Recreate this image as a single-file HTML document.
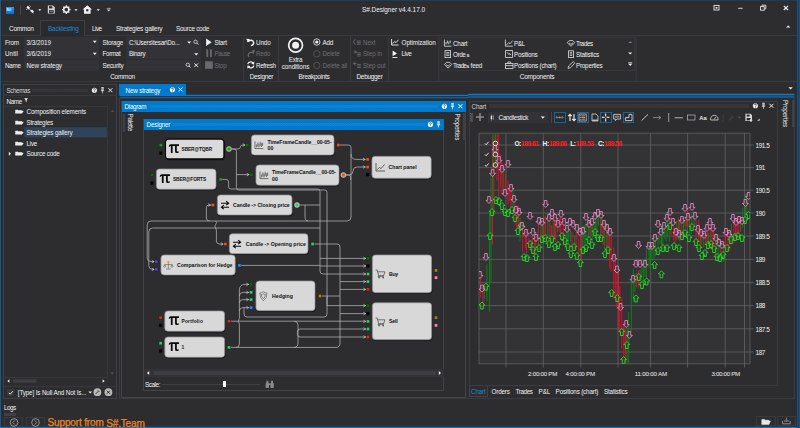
<!DOCTYPE html>
<html><head><meta charset="utf-8"><title>S#.Designer</title>
<style>
html,body{margin:0;padding:0;}
body{width:800px;height:428px;overflow:hidden;background:#2d2d30;position:relative;font-family:"Liberation Sans", sans-serif;}
#app{position:absolute;left:0;top:0;width:800px;height:428px;overflow:hidden;background:#2d2d30;}
#app div,#app span,#app svg{position:absolute;}
#app span{white-space:nowrap;line-height:1;}
#app svg{overflow:visible;}
</style></head><body><div id="app">
<div style="left:0.00px;top:0.00px;width:800.00px;height:428.00px;background:#2d2d30;"></div>
<svg style="left:0.00px;top:0.00px;" width="800" height="428" viewBox="0 0 800 428"><rect x="0" y="0" width="800" height="0.7" fill="#1b4466"/><rect x="0" y="0" width="0.95" height="428" fill="#1b5f96"/><rect x="0.95" y="1" width="0.45" height="426" fill="#282426"/><rect x="1" y="426.2" width="796" height="0.5" fill="#262224"/><rect x="0" y="426.7" width="800" height="1.3" fill="#1870b0"/><rect x="795.7" y="0.9" width="1.1" height="425.8" fill="#2a2526"/><rect x="796.8" y="0" width="3.2" height="428" fill="#1b5078"/><rect x="798.1" y="0" width="0.8" height="428" fill="#27394c"/></svg>
<div style="left:5.60px;top:6.80px;width:8.60px;height:7.00px;background:linear-gradient(#2b9cf2,#0a6cc6);"></div>
<span style="left:6px;top:8px;line-height:4px;font-size:3.6px;color:#fff;transform:translate(0.60px,0.48px) rotate(0.01deg);font-weight:bold;">S#</span>
<div style="left:20.30px;top:5.00px;width:0.60px;height:10.00px;background:#46464a;"></div>
<span style="left:362px;top:6px;line-height:7px;font-size:6.5px;color:#f1f1f1;transform:translate(0.00px,0.07px) rotate(0.01deg);letter-spacing:-0.063px;">S#.Designer v4.4.17.0</span>
<svg style="left:25.00px;top:4.40px;" width="90" height="12" viewBox="0 0 90 12">
<g fill="none" stroke="#f1f1f1" stroke-width="1">
<path d="M2.2 2.8 L8.6 9.2" stroke-width="0.8"/><path d="M1.4 3.4 L3 1.8 L5 3.8 L3.4 5.4z" fill="#f1f1f1" stroke="none"/><path d="M5.4 7 L7 5.4 L9 7.4 L7.4 9z" fill="#f1f1f1" stroke="none"/><path d="M4.6 1.6 L5.6 2.6 M1.2 5 L2.2 6" stroke-width="0.7"/>
</g>
<path d="M13.2 5.2 h3.2 l-1.6 1.8z" fill="#f1f1f1"/>
<path d="M22.8 1.6 h5.2 l1.8 1.6 v6.4 h-7z" fill="#d4d4d4"/><rect x="24" y="2.2" width="3.4" height="2.2" fill="#2d2d30"/><rect x="24" y="6" width="4.6" height="3" fill="#2d2d30"/><rect x="24.6" y="6.8" width="3.4" height="0.6" fill="#d4d4d4"/>
<g transform="translate(41.3,5.6)"><circle r="2.6" fill="none" stroke="#f1f1f1" stroke-width="1.5"/><g stroke="#f1f1f1" stroke-width="1.3"><path d="M0 -4.3V-2.8M0 4.3V2.8M-4.3 0H-2.8M4.3 0H2.8M-3 -3L-2 -2M3 3L2 2M-3 3L-2 2M3 -3L2 -2"/></g></g>
<path d="M49.4 5.2 h3.2 l-1.6 1.8z" fill="#f1f1f1"/>
<path d="M57.6 5.4 L62.3 1.2 L67 5.4 L65.6 5.4 L65.6 9.8 L59 9.8 L59 5.4z" fill="#f1f1f1"/><rect x="61.2" y="5.2" width="2.2" height="2.2" fill="#2d2d30"/>
<path d="M71.6 5.2 h3.2 l-1.6 1.8z" fill="#f1f1f1"/>
<path d="M81.8 5.4 h3.8 l-1.9 2.1z" fill="#d0d0d0"/><rect x="81.8" y="3.9" width="3.8" height="0.7" fill="#d0d0d0"/>
</svg>
<svg style="left:710.00px;top:2.00px;" width="90" height="14" viewBox="0 0 90 14">
<rect x="4" y="3.4" width="5" height="4.6" fill="none" stroke="#e6e6e6" stroke-width="0.9"/><rect x="5.6" y="5" width="1.8" height="1.6" fill="#e6e6e6"/>
<rect x="28.2" y="5.8" width="4.4" height="0.9" fill="#e6e6e6"/>
<rect x="50.6" y="4.6" width="3.6" height="3.6" fill="none" stroke="#e6e6e6" stroke-width="0.9"/><path d="M52 4.4 V3.2 H55.8 V6.8 H54.4" fill="none" stroke="#e6e6e6" stroke-width="0.9"/>
<path d="M73.8 3.8 L78 8 M78 3.8 L73.8 8" stroke="#f1f1f1" stroke-width="1.1"/>
<path d="M76 25.6 l2.2 -2.2 l2.2 2.2z" fill="#f1f1f1"/>
</svg>
<div style="left:40.00px;top:20.30px;width:44.60px;height:15.40px;background:#2a2a2d;border:0.6px solid #3f3f46;box-sizing:border-box;border-bottom:none;"></div>
<div style="left:441.30px;top:36.70px;width:193.40px;height:34.00px;background:#2e2e31;border:0.5px solid #37373b;box-sizing:border-box;"></div>
<div style="left:1.00px;top:34.90px;width:39.00px;height:0.60px;background:#3a3a3e;"></div>
<div style="left:84.60px;top:34.90px;width:712.00px;height:0.60px;background:#3a3a3e;"></div>
<span style="left:9px;top:24px;line-height:7px;font-size:6.5px;color:#f1f1f1;transform:translate(0.00px,0.66px) rotate(0.01deg);letter-spacing:-0.296px;">Common</span>
<span style="left:48px;top:24px;line-height:7px;font-size:6.5px;color:#1c86d6;transform:translate(0.00px,0.66px) rotate(0.01deg);letter-spacing:-0.274px;">Backtesting</span>
<span style="left:92px;top:24px;line-height:7px;font-size:6.5px;color:#f1f1f1;transform:translate(0.00px,0.66px) rotate(0.01deg);letter-spacing:-0.584px;">Live</span>
<span style="left:116px;top:24px;line-height:7px;font-size:6.5px;color:#f1f1f1;transform:translate(0.00px,0.66px) rotate(0.01deg);letter-spacing:-0.213px;">Strategies gallery</span>
<span style="left:176px;top:24px;line-height:7px;font-size:6.5px;color:#f1f1f1;transform:translate(0.00px,0.66px) rotate(0.01deg);letter-spacing:-0.318px;">Source code</span>
<div style="left:1.00px;top:81.40px;width:796.00px;height:0.60px;background:#3a3a3e;"></div>
<svg style="left:786.80px;top:86.00px;" width="8" height="5" viewBox="0 0 8 5"><path d="M1.4 1.2 h4.4 l-2.2 2.4z" fill="#f1f1f1"/></svg>
<span style="left:5px;top:38px;line-height:7px;font-size:6.3px;color:#f1f1f1;transform:translate(0.00px,0.88px) rotate(0.01deg);letter-spacing:-0.251px;">From</span>
<div style="left:24.30px;top:36.90px;width:74.50px;height:10.80px;background:#333337;"></div>
<span style="left:26px;top:38px;line-height:7px;font-size:6.3px;color:#f1f1f1;transform:translate(0.60px,0.88px) rotate(0.01deg);letter-spacing:-0.014px;">3/3/2019</span>
<svg style="left:92.00px;top:40.30px;" width="6" height="4" viewBox="0 0 6 4"><path d="M0.8 0.8 h4 l-2 2.2z" fill="#f1f1f1"/></svg>
<span style="left:5px;top:50px;line-height:7px;font-size:6.3px;color:#f1f1f1;transform:translate(0.00px,0.38px) rotate(0.01deg);letter-spacing:0.058px;">Until</span>
<div style="left:24.30px;top:48.40px;width:74.50px;height:10.80px;background:#333337;"></div>
<span style="left:26px;top:50px;line-height:7px;font-size:6.3px;color:#f1f1f1;transform:translate(0.60px,0.38px) rotate(0.01deg);letter-spacing:-0.014px;">3/6/2019</span>
<svg style="left:92.00px;top:51.80px;" width="6" height="4" viewBox="0 0 6 4"><path d="M0.8 0.8 h4 l-2 2.2z" fill="#f1f1f1"/></svg>
<span style="left:5px;top:61px;line-height:7px;font-size:6.3px;color:#f1f1f1;transform:translate(0.00px,0.88px) rotate(0.01deg);letter-spacing:-0.299px;">Name</span>
<div style="left:24.30px;top:59.90px;width:74.50px;height:10.80px;background:#333337;"></div>
<span style="left:26px;top:61px;line-height:7px;font-size:6.3px;color:#f1f1f1;transform:translate(0.60px,0.88px) rotate(0.01deg);letter-spacing:-0.129px;">New strategy</span>
<span style="left:102px;top:38px;line-height:7px;font-size:6.3px;color:#f1f1f1;transform:translate(0.40px,0.88px) rotate(0.01deg);letter-spacing:-0.209px;">Storage</span>
<div style="left:126.40px;top:36.90px;width:74.60px;height:10.80px;background:#333337;"></div>
<span style="left:129px;top:38px;line-height:7px;font-size:6.3px;color:#f1f1f1;transform:translate(0.00px,0.88px) rotate(0.01deg);letter-spacing:-0.245px;">C:\Users\tesar\Do...</span>
<span style="left:102px;top:50px;line-height:7px;font-size:6.3px;color:#f1f1f1;transform:translate(0.40px,0.38px) rotate(0.01deg);letter-spacing:-0.309px;">Format</span>
<div style="left:126.40px;top:48.40px;width:74.60px;height:10.80px;background:#333337;"></div>
<span style="left:129px;top:50px;line-height:7px;font-size:6.3px;color:#f1f1f1;transform:translate(0.00px,0.38px) rotate(0.01deg);letter-spacing:-0.243px;">Binary</span>
<span style="left:102px;top:61px;line-height:7px;font-size:6.3px;color:#f1f1f1;transform:translate(0.40px,0.88px) rotate(0.01deg);letter-spacing:-0.219px;">Security</span>
<div style="left:126.40px;top:59.90px;width:74.60px;height:10.80px;background:#333337;"></div>
<svg style="left:186.00px;top:38.00px;" width="16" height="34" viewBox="0 0 16 34">
<path d="M1.2 3.6 h4 l-2 2.2z" fill="#f1f1f1"/>
<circle cx="9.6" cy="3.8" r="1.7" fill="none" stroke="#e0e0e0" stroke-width="0.8"/><path d="M10.8 5 L12.4 6.6" stroke="#e0e0e0" stroke-width="0.9"/>
<path d="M8.2 15.2 h4 l-2 2.2z" fill="#f1f1f1"/>
<circle cx="1.8" cy="26.8" r="1.7" fill="none" stroke="#e0e0e0" stroke-width="0.8"/><path d="M3 28 L4.6 29.6" stroke="#e0e0e0" stroke-width="0.9"/>
<path d="M8.4 25.4 L12 29 M12 25.4 L8.4 29" stroke="#e6e6e6" stroke-width="1"/>
</svg>
<span style="left:110px;top:73px;line-height:7px;font-size:6.5px;color:#f1f1f1;transform:translate(0.20px,0.17px) rotate(0.01deg);letter-spacing:-0.296px;">Common</span>
<svg style="left:204.00px;top:37.00px;" width="10" height="34" viewBox="0 0 10 34">
<path d="M2.1 1.4 L7.7 5.25 L2.1 9.1z" fill="#f1f1f1"/>
<rect x="2.4" y="12.3" width="1.8" height="7.8" fill="#6a6a6c"/><rect x="6" y="12.3" width="1.8" height="7.8" fill="#6a6a6c"/>
<rect x="1.1" y="24.3" width="7.7" height="7.5" fill="#6a6a6c"/>
</svg>
<span style="left:214px;top:38px;line-height:7px;font-size:6.3px;color:#f1f1f1;transform:translate(0.40px,0.78px) rotate(0.01deg);letter-spacing:-0.182px;">Start</span>
<span style="left:214px;top:50px;line-height:7px;font-size:6.3px;color:#6e6e70;transform:translate(0.60px,0.48px) rotate(0.01deg);letter-spacing:-0.532px;">Pause</span>
<span style="left:214px;top:61px;line-height:7px;font-size:6.3px;color:#6e6e70;transform:translate(0.40px,0.98px) rotate(0.01deg);letter-spacing:-0.242px;">Stop</span>
<svg style="left:0.00px;top:0.00px;" width="800" height="428" viewBox="0 0 800 428"><rect x="243.3" y="36.4" width="0.8" height="44.4" fill="#3f3f46"/></svg>
<svg style="left:245.00px;top:37.00px;" width="12" height="34" viewBox="0 0 12 34">
<path d="M2.6 3.6 H5.6 A2.6 2.6 0 0 1 5.6 8.8 H4.6" fill="none" stroke="#f1f1f1" stroke-width="1.4" transform="rotate(-20 5 5)"/><path d="M1.2 1.8 L5 2 L3 5.2z" fill="#f1f1f1"/>
<path d="M8.6 15.4 H6 A2.5 2.5 0 0 0 5 20.2" fill="none" stroke="#6a6a6c" stroke-width="1.2" transform="rotate(15 6 17)"/><path d="M9.8 12.8 L6.6 13.8 L9 16.6z" fill="#6a6a6c"/>
<path d="M2.8 27.2 A2.9 2.9 0 0 1 8.2 26.4" fill="none" stroke="#f1f1f1" stroke-width="1.3"/><path d="M9.4 24.6 L9 27.8 L6.2 26.6z" fill="#f1f1f1"/>
<path d="M8.8 28.6 A2.9 2.9 0 0 1 3.4 29.4" fill="none" stroke="#f1f1f1" stroke-width="1.3"/><path d="M2.2 31.4 L2.6 28.2 L5.4 29.4z" fill="#f1f1f1"/>
</svg>
<span style="left:256px;top:38px;line-height:7px;font-size:6.3px;color:#f1f1f1;transform:translate(0.00px,0.78px) rotate(0.01deg);letter-spacing:-0.116px;">Undo</span>
<span style="left:256px;top:50px;line-height:7px;font-size:6.3px;color:#6e6e70;transform:translate(0.00px,0.48px) rotate(0.01deg);letter-spacing:-0.266px;">Redo</span>
<span style="left:256px;top:61px;line-height:7px;font-size:6.3px;color:#f1f1f1;transform:translate(0.00px,0.98px) rotate(0.01deg);letter-spacing:-0.352px;">Refresh</span>
<span style="left:249px;top:73px;line-height:7px;font-size:6.5px;color:#f1f1f1;transform:translate(0.70px,0.17px) rotate(0.01deg);letter-spacing:-0.327px;">Designer</span>
<svg style="left:0.00px;top:0.00px;" width="800" height="428" viewBox="0 0 800 428"><rect x="278.1" y="36.4" width="0.8" height="44.4" fill="#3f3f46"/></svg>
<svg style="left:286.00px;top:36.00px;" width="20" height="20" viewBox="0 0 20 20"><circle cx="9.6" cy="9.3" r="6.9" fill="none" stroke="#f1f1f1" stroke-width="1.7"/><circle cx="9.6" cy="9.3" r="3.5" fill="#f1f1f1"/></svg>
<span style="left:288px;top:55px;line-height:7px;font-size:6.3px;color:#f1f1f1;transform:translate(0.80px,0.98px) rotate(0.01deg);letter-spacing:-0.261px;">Extra</span>
<span style="left:281px;top:62px;line-height:7px;font-size:6.3px;color:#f1f1f1;transform:translate(0.80px,0.78px) rotate(0.01deg);letter-spacing:-0.096px;">conditions</span>
<svg style="left:312.00px;top:37.00px;" width="10" height="34" viewBox="0 0 10 34">
<circle cx="4.8" cy="5" r="3.2" fill="none" stroke="#f1f1f1" stroke-width="0.8"/><circle cx="4.8" cy="5" r="1.6" fill="#f1f1f1"/>
<circle cx="4.8" cy="16.8" r="3.2" fill="none" stroke="#5a5a5c" stroke-width="0.8"/>
<circle cx="4.8" cy="28.4" r="3.2" fill="none" stroke="#5a5a5c" stroke-width="0.8"/>
</svg>
<span style="left:322px;top:38px;line-height:7px;font-size:6.3px;color:#f1f1f1;transform:translate(0.50px,0.78px) rotate(0.01deg);letter-spacing:-0.273px;">Add</span>
<span style="left:322px;top:50px;line-height:7px;font-size:6.3px;color:#6e6e70;transform:translate(0.50px,0.48px) rotate(0.01deg);letter-spacing:-0.201px;">Delete</span>
<span style="left:322px;top:61px;line-height:7px;font-size:6.3px;color:#6e6e70;transform:translate(0.50px,0.98px) rotate(0.01deg);letter-spacing:-0.167px;">Delete all</span>
<span style="left:298px;top:73px;line-height:7px;font-size:6.5px;color:#f1f1f1;transform:translate(0.50px,0.17px) rotate(0.01deg);letter-spacing:-0.303px;">Breakpoints</span>
<svg style="left:0.00px;top:0.00px;" width="800" height="428" viewBox="0 0 800 428"><rect x="350.1" y="36.4" width="0.8" height="44.4" fill="#3f3f46"/></svg>
<svg style="left:352.00px;top:37.00px;" width="10" height="34" viewBox="0 0 10 34">
<g fill="none" stroke="#6a6a6c" stroke-width="0.9">
<path d="M3.6 2.4 A2.6 2.6 0 0 0 3.6 7.4"/><path d="M4.8 4 h4 M4.8 5.6 h4 M4.8 7.2 h4"/>
<path d="M1.6 15 h3 M2.6 13.6 L4.6 15 L2.6 16.4"/><path d="M5.2 15.8 h3.6 M5.2 17.4 h3.6 M5.2 19 h3.6"/>
<path d="M4.6 26.6 h-3 M3.4 25.2 L1.4 26.6 L3.4 28"/><path d="M5.2 27.4 h3.6 M5.2 29 h3.6 M5.2 30.6 h3.6"/>
</g></svg>
<span style="left:363px;top:38px;line-height:7px;font-size:6.3px;color:#6e6e70;transform:translate(0.00px,0.78px) rotate(0.01deg);letter-spacing:-0.138px;">Next</span>
<span style="left:363px;top:50px;line-height:7px;font-size:6.3px;color:#6e6e70;transform:translate(0.00px,0.48px) rotate(0.01deg);letter-spacing:-0.087px;">Step in</span>
<span style="left:363px;top:61px;line-height:7px;font-size:6.3px;color:#6e6e70;transform:translate(0.00px,0.98px) rotate(0.01deg);letter-spacing:-0.134px;">Step out</span>
<span style="left:356px;top:73px;line-height:7px;font-size:6.5px;color:#f1f1f1;transform:translate(0.50px,0.17px) rotate(0.01deg);letter-spacing:-0.320px;">Debugger</span>
<svg style="left:0.00px;top:0.00px;" width="800" height="428" viewBox="0 0 800 428"><rect x="388.3" y="36.4" width="0.8" height="44.4" fill="#3f3f46"/></svg>
<svg style="left:390.00px;top:37.00px;" width="10" height="22" viewBox="0 0 10 22">
<path d="M1.6 2 V8 H8.6" fill="none" stroke="#f1f1f1" stroke-width="0.9"/><path d="M2.6 6.6 L4.6 4.4 L6 5.6 L8.4 2.8" fill="none" stroke="#f1f1f1" stroke-width="0.9"/>
<path d="M2.6 13.6 L7 16.4 L2.6 19.2z" fill="#f1f1f1"/><rect x="2.4" y="20" width="5" height="0.9" fill="#f1f1f1"/>
</svg>
<span style="left:401px;top:38px;line-height:7px;font-size:6.3px;color:#f1f1f1;transform:translate(0.60px,0.78px) rotate(0.01deg);letter-spacing:-0.083px;">Optimization</span>
<span style="left:401px;top:50px;line-height:7px;font-size:6.3px;color:#f1f1f1;transform:translate(0.60px,0.48px) rotate(0.01deg);letter-spacing:-0.491px;">Live</span>
<svg style="left:0.00px;top:0.00px;" width="800" height="428" viewBox="0 0 800 428"><rect x="438.5" y="36.4" width="0.8" height="44.4" fill="#3f3f46"/></svg>
<span style="left:453px;top:39px;line-height:7px;font-size:6.3px;color:#f1f1f1;transform:translate(0.00px,0.58px) rotate(0.01deg);letter-spacing:-0.201px;">Chart</span>
<span style="left:453px;top:50px;line-height:7px;font-size:6.3px;color:#f1f1f1;transform:translate(0.00px,0.78px) rotate(0.01deg);letter-spacing:-0.400px;">Orde</span>
<span style="left:453px;top:62px;line-height:7px;font-size:6.3px;color:#f1f1f1;transform:translate(0.00px,0.18px) rotate(0.01deg);letter-spacing:-0.604px;">Trade</span>
<span style="left:514px;top:39px;line-height:7px;font-size:6.3px;color:#f1f1f1;transform:translate(0.00px,0.58px) rotate(0.01deg);letter-spacing:-0.502px;">P&amp;L</span>
<span style="left:514px;top:50px;line-height:7px;font-size:6.3px;color:#f1f1f1;transform:translate(0.00px,0.78px) rotate(0.01deg);letter-spacing:-0.240px;">Positions</span>
<span style="left:514px;top:62px;line-height:7px;font-size:6.3px;color:#f1f1f1;transform:translate(0.00px,0.18px) rotate(0.01deg);letter-spacing:-0.182px;">Positions (chart)</span>
<span style="left:576px;top:39px;line-height:7px;font-size:6.3px;color:#f1f1f1;transform:translate(0.00px,0.58px) rotate(0.01deg);letter-spacing:-0.429px;">Trades</span>
<span style="left:576px;top:50px;line-height:7px;font-size:6.3px;color:#f1f1f1;transform:translate(0.00px,0.78px) rotate(0.01deg);letter-spacing:-0.220px;">Statistics</span>
<span style="left:576px;top:62px;line-height:7px;font-size:6.3px;color:#f1f1f1;transform:translate(0.00px,0.18px) rotate(0.01deg);letter-spacing:-0.230px;">Properties</span>
<span style="left:466px;top:51px;line-height:6px;font-size:5.4px;color:#f1f1f1;transform:translate(0.60px,0.81px) rotate(0.01deg);font-weight:bold;">s</span>
<span style="left:466px;top:63px;line-height:6px;font-size:5.4px;color:#f1f1f1;transform:translate(0.20px,0.21px) rotate(0.01deg);font-weight:bold;">s</span>
<span style="left:470px;top:62px;line-height:7px;font-size:6.3px;color:#f1f1f1;transform:translate(0.60px,0.18px) rotate(0.01deg);letter-spacing:-0.216px;">feed</span>
<svg style="left:443.00px;top:38.00px;" width="10" height="34" viewBox="0 0 10 34">
<g fill="none" stroke="#e2e2e2" stroke-width="0.8">
<path d="M1.4 1.6 V8.2 H8.4"/><path d="M3 6.4 V4 M4.4 5.4 V2.6 M5.8 6.4 V3.6 M7.2 5 V2.4"/>
<rect x="2" y="12.6" width="5.6" height="7" /><path d="M3.2 14.6 h3.2 M3.2 16 h3.2 M3.2 17.4 h3.2"/>
<path d="M1.4 26.4 L3.4 24.4 L6.8 24.4 L8.8 26.4 L5.1 30.2z"/><path d="M3.2 26.6 L5.1 28.2 L7 26.6"/>
</g></svg>
<svg style="left:504.00px;top:38.00px;" width="10" height="34" viewBox="0 0 10 34">
<g fill="none" stroke="#e2e2e2" stroke-width="0.8">
<path d="M1.4 1.6 V8.2 H8.8"/><path d="M2.4 7 L4.6 4.6 L6 5.8 L8.6 2.6"/>
<rect x="1.6" y="12.6" width="6.8" height="6.8"/><path d="M3 14.2 L5 16.6 L5.6 15.4 L7 17.2" />
<rect x="1.4" y="25.4" width="7.6" height="5"/><path d="M3.8 25.4 V24 H6.6 V25.4 M1.4 27.6 H9"/>
</g></svg>
<svg style="left:566.00px;top:38.00px;" width="10" height="34" viewBox="0 0 10 34">
<g fill="none" stroke="#e2e2e2" stroke-width="0.8">
<path d="M1.2 4.6 L3.2 2.6 L6.8 2.6 L8.8 4.6 L5 8.2z"/><path d="M3 4.8 L5 6.4 L7 4.8"/>
<rect x="2.6" y="12.8" width="4.8" height="6.8"/><path d="M3.8 14.6 h2.4 M3.8 16 h2.4 M3.8 17.4 h2.4"/>
<path d="M2 30.4 L2.6 28 L7.2 23.6 L8.8 25.2 L4.4 29.8z"/>
</g></svg>
<svg style="left:626.00px;top:38.00px;" width="10" height="34" viewBox="0 0 10 34">
<path d="M2.4 5 l1.8 -1.8 l1.8 1.8z" fill="#8a8a8c"/>
<path d="M2.2 14.4 h4 l-2 2.2z" fill="#f1f1f1"/>
<rect x="2.2" y="24.4" width="4" height="0.8" fill="#f1f1f1"/><path d="M2.2 25.8 h4 l-2 2.2z" fill="#f1f1f1"/>
</svg>
<span style="left:519px;top:73px;line-height:7px;font-size:6.5px;color:#f1f1f1;transform:translate(0.80px,0.17px) rotate(0.01deg);letter-spacing:-0.246px;">Components</span>
<svg style="left:0.00px;top:0.00px;" width="800" height="428" viewBox="0 0 800 428"><rect x="635.7" y="36.4" width="0.8" height="44.4" fill="#3f3f46"/></svg>
<div style="left:3.00px;top:84.40px;width:113.60px;height:314.60px;background:#2d2d30;border:0.6px solid #3f3f46;box-sizing:border-box;"></div>
<span style="left:6px;top:87px;line-height:7px;font-size:6.3px;color:#d0d0d0;transform:translate(0.40px,0.18px) rotate(0.01deg);letter-spacing:-0.379px;">Schemas</span>
<div style="left:32px;top:88.6px;width:56px;height:3.6px;background-image:radial-gradient(circle at 0.4px 0.4px,#46464a 0.45px,transparent 0.55px),radial-gradient(circle at 1.2px 1.3px,#46464a 0.45px,transparent 0.55px);background-size:1.7px 1.8px;opacity:.75"></div>
<svg style="left:0.00px;top:0.00px;" width="800" height="428" viewBox="0 0 800 428"><circle cx="94.4" cy="90.2" r="2.55" fill="#f1f1f1"/><path d="M93.55000000000001 89.45 a0.85 0.85 0 1 1 1.2 0.75 l-0.2 0.5" fill="none" stroke="#1e1e20" stroke-width="0.75"/><rect x="94.10000000000001" y="91.25" width="0.7" height="0.7" fill="#1e1e20"/><path d="M101.30000000000001 87.5 h2.4 M101.75 87.5 v3.2 M103.15 87.5 v3.2 M100.80000000000001 90.7 h3.4 M102.5 90.7 v2.7" fill="none" stroke="#f1f1f1" stroke-width="0.65"/><rect x="102.60000000000001" y="87.5" width="0.6" height="3.2" fill="#f1f1f1"/><path d="M108.4 88.2 L112.4 92.2 M112.4 88.2 L108.4 92.2" stroke="#f1f1f1" stroke-width="1"/></svg>
<div style="left:3.00px;top:94.70px;width:113.60px;height:0.50px;background:#3a3a3e;"></div>
<span style="left:6px;top:97px;line-height:7px;font-size:6.3px;color:#f1f1f1;transform:translate(0.40px,0.98px) rotate(0.01deg);letter-spacing:-0.299px;">Name</span>
<svg style="left:23.80px;top:98.20px;" width="5" height="5" viewBox="0 0 5 5"><path d="M0.2 0.3 h3.8 l-1.4 1.6 v2.2 l-1 -0.6 v-1.6z" fill="#f4f4f4"/></svg>
<div style="left:3.00px;top:106.20px;width:105.00px;height:0.50px;background:#38383c;"></div>
<div style="left:107.10px;top:106.00px;width:0.50px;height:271.00px;background:#38383c;"></div>
<span style="left:26px;top:108px;line-height:7px;font-size:6.3px;color:#f1f1f1;transform:translate(0.50px,0.48px) rotate(0.01deg);letter-spacing:-0.136px;">Composition elements</span>
<svg style="left:14.80px;top:109.40px;" width="9" height="5" viewBox="0 0 9 5"><path d="M0.5 4.3 L1.7 2 H8.3 L7 4.3z M0.5 4.2 V0.9 H2.8 L3.4 1.5 H6.8 V2" fill="#ececec" stroke="#ececec" stroke-width="0.45" stroke-linejoin="round"/></svg>
<div style="left:3.60px;top:117.10px;width:104.00px;height:0.50px;background:#2e2e31;"></div>
<span style="left:26px;top:118px;line-height:7px;font-size:6.3px;color:#f1f1f1;transform:translate(0.50px,0.98px) rotate(0.01deg);letter-spacing:-0.196px;">Strategies</span>
<svg style="left:14.80px;top:119.90px;" width="9" height="5" viewBox="0 0 9 5"><path d="M0.5 4.3 L1.7 2 H8.3 L7 4.3z M0.5 4.2 V0.9 H2.8 L3.4 1.5 H6.8 V2" fill="#ececec" stroke="#ececec" stroke-width="0.45" stroke-linejoin="round"/></svg>
<div style="left:3.60px;top:127.60px;width:104.00px;height:0.50px;background:#2e2e31;"></div>
<svg style="left:0.00px;top:0.00px;" width="800" height="428" viewBox="0 0 800 428"><rect x="24.4" y="127.30" width="82.5" height="10.1" fill="#2f4359"/></svg>
<span style="left:26px;top:129px;line-height:7px;font-size:6.3px;color:#f1f1f1;transform:translate(0.50px,0.48px) rotate(0.01deg);letter-spacing:-0.148px;">Strategies gallery</span>
<svg style="left:14.80px;top:130.40px;" width="9" height="5" viewBox="0 0 9 5"><path d="M0.5 4.3 L1.7 2 H8.3 L7 4.3z M0.5 4.2 V0.9 H2.8 L3.4 1.5 H6.8 V2" fill="#ececec" stroke="#ececec" stroke-width="0.45" stroke-linejoin="round"/></svg>
<div style="left:3.60px;top:138.10px;width:104.00px;height:0.50px;background:#2e2e31;"></div>
<span style="left:26px;top:139px;line-height:7px;font-size:6.3px;color:#f1f1f1;transform:translate(0.50px,0.98px) rotate(0.01deg);letter-spacing:-0.241px;">Live</span>
<svg style="left:14.80px;top:140.90px;" width="9" height="5" viewBox="0 0 9 5"><path d="M0.5 4.3 L1.7 2 H8.3 L7 4.3z M0.5 4.2 V0.9 H2.8 L3.4 1.5 H6.8 V2" fill="#ececec" stroke="#ececec" stroke-width="0.45" stroke-linejoin="round"/></svg>
<div style="left:3.60px;top:148.60px;width:104.00px;height:0.50px;background:#2e2e31;"></div>
<span style="left:26px;top:150px;line-height:7px;font-size:6.3px;color:#f1f1f1;transform:translate(0.50px,0.48px) rotate(0.01deg);letter-spacing:-0.214px;">Source code</span>
<svg style="left:14.80px;top:151.40px;" width="9" height="5" viewBox="0 0 9 5"><path d="M0.5 4.3 L1.7 2 H8.3 L7 4.3z M0.5 4.2 V0.9 H2.8 L3.4 1.5 H6.8 V2" fill="#ececec" stroke="#ececec" stroke-width="0.45" stroke-linejoin="round"/></svg>
<svg style="left:8.00px;top:151.00px;" width="4" height="6" viewBox="0 0 4 6"><path d="M0.8 0.8 L3 2.8 L0.8 4.8z" fill="#e6e6e6"/></svg>
<svg style="left:108.60px;top:108.00px;" width="7" height="6" viewBox="0 0 7 6"><path d="M1.6 3.8 l1.8 -1.8 l1.8 1.8z" fill="#5a5a5e"/></svg>
<svg style="left:108.60px;top:370.60px;" width="7" height="6" viewBox="0 0 7 6"><path d="M1.4 1.6 h3.6 l-1.8 1.8z" fill="#5a5a5e"/></svg>
<div style="left:3.60px;top:377.40px;width:104.00px;height:0.50px;background:#38383c;"></div>
<svg style="left:5.00px;top:378.00px;" width="105" height="7" viewBox="0 0 105 7"><path d="M4.4 1.2 L2.4 3 L4.4 4.8z" fill="#f1f1f1"/><path d="M97.6 1.2 L99.6 3 L97.6 4.8z" fill="#f1f1f1"/><rect x="8" y="1.2" width="23.4" height="3.6" fill="#3e3e42"/></svg>
<div style="left:3.60px;top:385.60px;width:112.60px;height:0.50px;background:#38383c;"></div>
<div style="left:7.40px;top:389.00px;width:7.00px;height:6.80px;background:#38383c;"></div>
<svg style="left:7.00px;top:388.80px;" width="8" height="8" viewBox="0 0 8 8"><path d="M1.8 3.8 L3.2 5.2 L5.8 2.2" fill="none" stroke="#f1f1f1" stroke-width="0.9"/></svg>
<span style="left:17px;top:389px;line-height:7px;font-size:6.3px;color:#f1f1f1;transform:translate(0.80px,0.08px) rotate(0.01deg);letter-spacing:-0.145px;">[Type] Is Null And Not Is...</span>
<svg style="left:87.60px;top:390.60px;" width="5" height="4" viewBox="0 0 5 4"><path d="M0.4 0.4 h3.6 l-1.8 2z" fill="#f1f1f1"/></svg>
<svg style="left:93.00px;top:388.00px;" width="20" height="9" viewBox="0 0 20 9"><circle cx="4.4" cy="4.2" r="3.9" fill="#b8b8b8"/><path d="M2.8 5.8 L5.4 3.2 M5 2.4 l1.1 1.1" stroke="#2d2d30" stroke-width="1"/><circle cx="15.4" cy="4.2" r="3.9" fill="#b8b8b8"/><path d="M13.9 2.7 L16.9 5.7 M16.9 2.7 L13.9 5.7" stroke="#2d2d30" stroke-width="1"/></svg>
<span style="left:4px;top:403px;line-height:7px;font-size:6.3px;color:#f1f1f1;transform:translate(0.00px,0.98px) rotate(0.01deg);letter-spacing:-0.514px;">Logs</span>
<div style="left:4.00px;top:413.20px;width:12.00px;height:2.40px;background:#3f3f46;"></div>
<div style="left:4.00px;top:417.00px;width:19.40px;height:10.00px;background:#2d2d30;border:0.6px solid #3a3a3e;box-sizing:border-box;"></div>
<div style="left:26.00px;top:417.00px;width:19.40px;height:10.00px;background:#2d2d30;border:0.6px solid #3a3a3e;box-sizing:border-box;"></div>
<svg style="left:9.00px;top:418.00px;" width="32" height="9" viewBox="0 0 32 9"><g fill="none" stroke="#b4b4b6" stroke-width="0.75"><circle cx="5" cy="4.5" r="3.8"/><path d="M5.8 2.5 L3.8 4.5 L5.8 6.5"/><circle cx="26.5" cy="4.5" r="3.8"/><path d="M25.7 2.5 L27.7 4.5 L25.7 6.5"/></g></svg>
<span style="left:47px;top:417px;line-height:11px;font-size:10px;color:#f0861c;transform:translate(0.60px,0.50px) rotate(0.01deg);letter-spacing:-0.152px;-webkit-text-stroke:0.25px #f0861c;">Support from S#.Team</span>
<div style="left:756.00px;top:416.00px;width:20.00px;height:10.00px;background:#2d2d30;border:0.6px solid #3a3a3e;box-sizing:border-box;"></div>
<div style="left:777.00px;top:416.00px;width:19.00px;height:10.00px;background:#2d2d30;border:0.6px solid #3a3a3e;box-sizing:border-box;"></div>
<svg style="left:761.00px;top:417.60px;" width="12" height="8" viewBox="0 0 12 8"><path d="M0.8 6.4 L2 3 H9.4 L8 6.4z M0.8 6.2 V1.4 H3.6 L4.2 2.2 H7.8 V3" fill="#e8e8e8" stroke="#e8e8e8" stroke-width="0.5" stroke-linejoin="round"/></svg>
<svg style="left:781.00px;top:417.40px;" width="12" height="8" viewBox="0 0 12 8"><path d="M1.6 4 V6.8 H9.2 V4 M3 4 h1 M7.8 4 h-1" fill="none" stroke="#9a9a9c" stroke-width="0.9"/><path d="M5.4 0.6 V4.6 M4 3.4 L5.4 4.8 L6.8 3.4" fill="none" stroke="#9a9a9c" stroke-width="0.8"/></svg>
<div style="left:119.40px;top:83.60px;width:67.00px;height:11.60px;background:#007acc;"></div>
<span style="left:125px;top:86px;line-height:7px;font-size:6.3px;color:#fff;transform:translate(0.60px,0.58px) rotate(0.01deg);letter-spacing:-0.179px;">New strategy</span>
<svg style="left:0.00px;top:0.00px;" width="800" height="428" viewBox="0 0 800 428"><circle cx="172.4" cy="89.8" r="2.55" fill="#fff"/><path d="M171.55 89.05 a0.85 0.85 0 1 1 1.2 0.75 l-0.2 0.5" fill="none" stroke="#1e1e20" stroke-width="0.75"/><rect x="172.1" y="90.85" width="0.7" height="0.7" fill="#1e1e20"/></svg>
<svg style="left:0.00px;top:0.00px;" width="800" height="428" viewBox="0 0 800 428"><path d="M178.6 87.6 L182.4 91.4 M182.4 87.6 L178.6 91.4" stroke="#fff" stroke-width="1"/></svg>
<div style="left:119.40px;top:96.50px;width:675.60px;height:302.00px;background:#2d2d30;border:0.7px solid #3c3c40;box-sizing:border-box;border-top:none;"></div>
<svg style="left:0.00px;top:0.00px;" width="800" height="428" viewBox="0 0 800 428"><rect x="119.4" y="94.8" width="348.6" height="1.25" fill="#0c79cc"/><rect x="120" y="96.9" width="348" height="1.4" fill="#1a5c92"/><rect x="468" y="93.8" width="326.4" height="1.2" fill="#0c79cc"/><rect x="468" y="95.3" width="326.4" height="2.6" fill="#1f5687"/></svg>
<div style="left:121.40px;top:100.60px;width:345.00px;height:297.00px;background:#2d2d30;border:0.6px solid #434346;box-sizing:border-box;"></div>
<div style="left:122.00px;top:101.00px;width:343.80px;height:11.00px;background:#007acc;"></div>
<div style="left:150px;top:104.6px;width:288px;height:3.6px;background-image:radial-gradient(circle at 0.4px 0.4px,#2a8ed8 0.45px,transparent 0.55px),radial-gradient(circle at 1.2px 1.3px,#2a8ed8 0.45px,transparent 0.55px);background-size:1.7px 1.8px;opacity:.75"></div>
<span style="left:124px;top:103px;line-height:7px;font-size:6.3px;color:#fff;transform:translate(0.60px,0.48px) rotate(0.01deg);letter-spacing:-0.314px;">Diagram</span>
<svg style="left:0.00px;top:0.00px;" width="800" height="428" viewBox="0 0 800 428"><circle cx="444.4" cy="106.2" r="2.55" fill="#fff"/><path d="M443.54999999999995 105.45 a0.85 0.85 0 1 1 1.2 0.75 l-0.2 0.5" fill="none" stroke="#1e1e20" stroke-width="0.75"/><rect x="444.09999999999997" y="107.25" width="0.7" height="0.7" fill="#1e1e20"/><path d="M451.29999999999995 103.5 h2.4 M451.75 103.5 v3.2 M453.15 103.5 v3.2 M450.79999999999995 106.7 h3.4 M452.5 106.7 v2.7" fill="none" stroke="#fff" stroke-width="0.65"/><rect x="452.59999999999997" y="103.5" width="0.6" height="3.2" fill="#fff"/><path d="M458.4 104.2 L462.4 108.2 M462.4 104.2 L458.4 108.2" stroke="#fff" stroke-width="1"/></svg>
<div style="left:123.00px;top:113.60px;width:2.20px;height:18.00px;background:#3f3f46;"></div>
<span style="left:0;top:0;line-height:7px;font-size:6.3px;color:#f1f1f1;letter-spacing:-0.316px;transform-origin:0 0;transform:translate(134px,113.6px) rotate(90deg);">Palette</span>
<span style="left:0;top:0;line-height:7px;font-size:6.3px;color:#f1f1f1;letter-spacing:-0.200px;transform-origin:0 0;transform:translate(460.9px,113.4px) rotate(90deg);">Properties</span>
<div style="left:463.40px;top:113.40px;width:2.40px;height:26.60px;background:#3f3f46;"></div>
<div style="left:143.40px;top:119.00px;width:301.00px;height:272.00px;background:#2d2d30;border:0.6px solid #434346;box-sizing:border-box;"></div>
<div style="left:143.80px;top:119.00px;width:300.00px;height:10.80px;background:#007acc;"></div>
<div style="left:173px;top:122.6px;width:252px;height:3.6px;background-image:radial-gradient(circle at 0.4px 0.4px,#2a8ed8 0.45px,transparent 0.55px),radial-gradient(circle at 1.2px 1.3px,#2a8ed8 0.45px,transparent 0.55px);background-size:1.7px 1.8px;opacity:.75"></div>
<span style="left:146px;top:121px;line-height:7px;font-size:6.3px;color:#fff;transform:translate(0.60px,0.18px) rotate(0.01deg);letter-spacing:-0.200px;">Designer</span>
<svg style="left:0.00px;top:0.00px;" width="800" height="428" viewBox="0 0 800 428"><circle cx="430.4" cy="124.4" r="2.55" fill="#fff"/><path d="M429.54999999999995 123.65 a0.85 0.85 0 1 1 1.2 0.75 l-0.2 0.5" fill="none" stroke="#1e1e20" stroke-width="0.75"/><rect x="430.09999999999997" y="125.45" width="0.7" height="0.7" fill="#1e1e20"/><path d="M437.29999999999995 121.7 h2.4 M437.75 121.7 v3.2 M439.15 121.7 v3.2 M436.79999999999995 124.9 h3.4 M438.5 124.9 v2.7" fill="none" stroke="#fff" stroke-width="0.65"/><rect x="438.59999999999997" y="121.7" width="0.6" height="3.2" fill="#fff"/></svg>
<div style="left:144.00px;top:369.40px;width:300.00px;height:7.20px;background:#333337;"></div>
<div style="left:153.60px;top:370.60px;width:282.00px;height:4.80px;background:#3e3e42;"></div>
<svg style="left:144.00px;top:369.40px;" width="300" height="8" viewBox="0 0 300 8"><path d="M5.2 2 L3 4 L5.2 6z" fill="#f1f1f1"/><path d="M294.8 2 L297 4 L294.8 6z" fill="#f1f1f1"/></svg>
<span style="left:145px;top:380px;line-height:7px;font-size:6.3px;color:#f1f1f1;transform:translate(0.00px,0.98px) rotate(0.01deg);letter-spacing:-0.419px;">Scale:</span>
<div style="left:162.00px;top:383.80px;width:98.00px;height:0.80px;background:#3f3f46;"></div>
<div style="left:223.00px;top:380.60px;width:2.60px;height:6.40px;background:#ffffff;"></div>
<svg style="left:265.00px;top:380.00px;" width="10" height="9" viewBox="0 0 10 9"><g fill="#8a8a8c"><rect x="0.6" y="3" width="3.4" height="5" rx="0.8"/><rect x="5.4" y="3" width="3.4" height="5" rx="0.8"/><rect x="1.4" y="0.8" width="2" height="3"/><rect x="6" y="0.8" width="2" height="3"/><rect x="3.6" y="3.4" width="2.2" height="1.6"/></g></svg>
<div style="left:468.60px;top:100.60px;width:309.00px;height:285.00px;background:#2d2d30;border:0.6px solid #3c3c40;box-sizing:border-box;"></div>
<span style="left:471px;top:102px;line-height:7px;font-size:6.3px;color:#d0d0d0;transform:translate(0.60px,0.78px) rotate(0.01deg);letter-spacing:-0.201px;">Chart</span>
<div style="left:489px;top:104.4px;width:260px;height:3.6px;background-image:radial-gradient(circle at 0.4px 0.4px,#46464a 0.45px,transparent 0.55px),radial-gradient(circle at 1.2px 1.3px,#46464a 0.45px,transparent 0.55px);background-size:1.7px 1.8px;opacity:.75"></div>
<svg style="left:0.00px;top:0.00px;" width="800" height="428" viewBox="0 0 800 428"><circle cx="755.4" cy="105.8" r="2.55" fill="#f1f1f1"/><path d="M754.55 105.05 a0.85 0.85 0 1 1 1.2 0.75 l-0.2 0.5" fill="none" stroke="#1e1e20" stroke-width="0.75"/><rect x="755.1" y="106.85" width="0.7" height="0.7" fill="#1e1e20"/><path d="M762.3 103.1 h2.4 M762.75 103.1 v3.2 M764.15 103.1 v3.2 M761.8 106.3 h3.4 M763.5 106.3 v2.7" fill="none" stroke="#f1f1f1" stroke-width="0.65"/><rect x="763.6" y="103.1" width="0.6" height="3.2" fill="#f1f1f1"/><path d="M769.4 103.8 L773.4 107.8 M773.4 103.8 L769.4 107.8" stroke="#f1f1f1" stroke-width="1"/></svg>
<span style="left:0;top:0;line-height:7px;font-size:6.3px;color:#f1f1f1;letter-spacing:-0.170px;transform-origin:0 0;transform:translate(788.9px,100px) rotate(90deg);">Properties</span>
<div style="left:792.40px;top:99.60px;width:2.20px;height:27.00px;background:#3f3f46;"></div>
<div style="left:469.00px;top:385.60px;width:19.40px;height:11.60px;background:#2d2d30;border:0.6px solid #434346;box-sizing:border-box;border-top:none;"></div>
<span style="left:471px;top:388px;line-height:7px;font-size:6.3px;color:#1c86d6;transform:translate(0.00px,0.28px) rotate(0.01deg);letter-spacing:-0.161px;">Chart</span>
<span style="left:491px;top:388px;line-height:7px;font-size:6.3px;color:#f1f1f1;transform:translate(0.60px,0.28px) rotate(0.01deg);letter-spacing:-0.208px;">Orders</span>
<span style="left:515px;top:388px;line-height:7px;font-size:6.3px;color:#f1f1f1;transform:translate(0.60px,0.28px) rotate(0.01deg);letter-spacing:-0.396px;">Trades</span>
<span style="left:538px;top:388px;line-height:7px;font-size:6.3px;color:#f1f1f1;transform:translate(0.60px,0.28px) rotate(0.01deg);letter-spacing:-0.169px;">P&amp;L</span>
<span style="left:555px;top:388px;line-height:7px;font-size:6.3px;color:#f1f1f1;transform:translate(0.60px,0.28px) rotate(0.01deg);letter-spacing:-0.171px;">Positions (chart)</span>
<span style="left:604px;top:388px;line-height:7px;font-size:6.3px;color:#f1f1f1;transform:translate(0.00px,0.28px) rotate(0.01deg);letter-spacing:-0.180px;">Statistics</span>
<svg style="left:0.00px;top:0.00px;" width="800" height="428" viewBox="0 0 800 428"><path d="
M231.6 149 H234 Q236.4 149 236.4 151.4 V187.6 Q236.4 190 238.8 190 H324.6 Q327 190 327 192.4 V314
M232 149 H238 Q240.4 149 240.4 146.8 Q240.4 145 243 145 H245.4
M222 179.4 H226 Q228.6 179.4 228.6 182 V187 Q228.6 189 231 189 H317.6 Q320 189 320 191.4 V271 Q320 274 323 274 H366
M236.4 174.6 H249.6
M340 145 H348.6 Q351 145 351 147.4 V217 Q351 221 347 221 H151 Q147.2 221 147.2 225 V258 Q147.2 261.6 151 261.6 H154.6
M351 154 Q351 159.4 356 159.4 H365.6
M346 175 H349 Q353 175 353 171 Q353 167 357 167 H365.6
M346 175 H348.4 Q350.6 175 350.6 177 V180
M214.4 205 H209 Q206.4 205 206.4 207.6 V218 Q206.4 221 209.4 221
M215.6 221 Q217.6 222.6 215.6 224.6 Q214.2 226 215.6 228 Q216.4 229 216.4 231 V241 Q216.4 244 219.4 244 H223.4
M320 228 H152.6 Q148.8 228 148.8 232 V265.6 Q148.8 269.4 152.6 269.4 H154.6
M299.6 205 H320
M305 205 Q305 208 305 216 Q305 221 308 221
M314.4 244 H327
M327 244 H337 Q340 244 340 247 V343 Q340 347.4 336 347.4 H231
M241 265.4 H320
M320 258.4 H366
M320 266 H366
M340 281.6 H366
M340 289.4 H366
M322 296 H327 M327 296 H340
M327 296 V305.6 H366
M340 313.6 H366
M231 321.2 H366
M300 329 H366 M300 337 H366
M300 329 Q297.4 329 297.4 332 V334 Q297.4 337 300 337
M294 321.2 Q298 321.2 298 325 V343 Q298 347.4 294 347.4
M236 347.4 Q239.4 347.4 239.4 344 V324 Q237 321.2 239.4 318.6 V290 Q239.4 284.4 245 284.4 H249
M239.4 296 Q239.4 292.4 243 292.4 H249 M239.4 303 Q239.4 299.6 243 299.6 H249 M239.4 311 Q239.4 307.6 243 307.6 H249
M244 307.6 V314 Q244 317 247 317 H324 Q327 317 327 314
" fill="none" stroke="#b4b4b4" stroke-width="0.75"/></svg>
<svg style="left:0.00px;top:0.00px;" width="800" height="428" viewBox="0 0 800 428"><path d="M363.4 257.1 L365.6 258.4 L363.4 259.7 M363.4 264.7 L365.6 266.0 L363.4 267.3 M363.4 272.7 L365.6 274.0 L363.4 275.3 M363.4 280.3 L365.6 281.6 L363.4 282.9 M363.4 288.1 L365.6 289.4 L363.4 290.7 M363.4 304.3 L365.6 305.6 L363.4 306.9 M363.4 312.3 L365.6 313.6 L363.4 314.9 M363.4 320.1 L365.6 321.4 L363.4 322.7 M363.4 327.7 L365.6 329.0 L363.4 330.3 M363.4 335.7 L365.6 337.0 L363.4 338.3 M363.0 158.1 L365.2 159.4 L363.0 160.7 M363.0 165.7 L365.2 167.0 L363.0 168.3 M242.8 143.7 L245.0 145.0 L242.8 146.3 M246.8 173.3 L249.0 174.6 L246.8 175.9 M208.2 203.7 L210.4 205.0 L208.2 206.3 M220.8 242.7 L223.0 244.0 L220.8 245.3 M151.8 260.3 L154.0 261.6 L151.8 262.9 M151.8 268.1 L154.0 269.4 L151.8 270.7 M246.4 283.1 L248.6 284.4 L246.4 285.7 M246.4 291.1 L248.6 292.4 L246.4 293.7 M246.4 298.3 L248.6 299.6 L246.4 300.9 M246.4 306.3 L248.6 307.6 L246.4 308.9 " fill="none" stroke="#c8c8c8" stroke-width="0.7"/></svg>
<svg style="left:0.00px;top:0.00px;" width="800" height="428" viewBox="0 0 800 428"><rect x="165.50" y="139.50" width="59.40" height="20.80" rx="3.4" fill="rgba(0,0,0,.45)"/><rect x="165.50" y="139.10" width="58.40" height="19.80" rx="3.2" fill="#dadada" stroke="#050505" stroke-width="1.1"/></svg>
<svg style="left:0.00px;top:0.00px;" width="800" height="428" viewBox="0 0 800 428"><rect x="156.50" y="169.50" width="60.40" height="21.00" rx="3.4" fill="rgba(0,0,0,.45)"/><rect x="156.35" y="168.95" width="59.70" height="20.30" rx="3.2" fill="#d8d8d8" stroke="#8c8c8c" stroke-width="0.7"/></svg>
<svg style="left:0.00px;top:0.00px;" width="800" height="428" viewBox="0 0 800 428"><rect x="251.50" y="135.50" width="83.40" height="20.80" rx="3.4" fill="rgba(0,0,0,.45)"/><rect x="251.35" y="134.95" width="82.70" height="20.10" rx="3.2" fill="#d8d8d8" stroke="#8c8c8c" stroke-width="0.7"/></svg>
<svg style="left:0.00px;top:0.00px;" width="800" height="428" viewBox="0 0 800 428"><rect x="256.10" y="165.50" width="83.80" height="21.00" rx="3.4" fill="rgba(0,0,0,.45)"/><rect x="255.95" y="164.95" width="83.10" height="20.30" rx="3.2" fill="#d8d8d8" stroke="#8c8c8c" stroke-width="0.7"/></svg>
<svg style="left:0.00px;top:0.00px;" width="800" height="428" viewBox="0 0 800 428"><rect x="372.10" y="156.90" width="60.00" height="22.60" rx="3.4" fill="rgba(0,0,0,.45)"/><rect x="371.95" y="156.35" width="59.30" height="21.90" rx="3.2" fill="#d8d8d8" stroke="#8c8c8c" stroke-width="0.7"/></svg>
<svg style="left:0.00px;top:0.00px;" width="800" height="428" viewBox="0 0 800 428"><rect x="217.50" y="195.50" width="75.40" height="20.80" rx="3.4" fill="rgba(0,0,0,.45)"/><rect x="217.35" y="194.95" width="74.70" height="20.10" rx="3.2" fill="#d8d8d8" stroke="#8c8c8c" stroke-width="0.7"/></svg>
<svg style="left:0.00px;top:0.00px;" width="800" height="428" viewBox="0 0 800 428"><rect x="229.50" y="234.30" width="79.40" height="20.60" rx="3.4" fill="rgba(0,0,0,.45)"/><rect x="229.35" y="233.75" width="78.70" height="19.90" rx="3.2" fill="#d8d8d8" stroke="#8c8c8c" stroke-width="0.7"/></svg>
<svg style="left:0.00px;top:0.00px;" width="800" height="428" viewBox="0 0 800 428"><rect x="161.10" y="255.50" width="75.00" height="20.80" rx="3.4" fill="rgba(0,0,0,.45)"/><rect x="160.95" y="254.95" width="74.30" height="20.10" rx="3.2" fill="#d8d8d8" stroke="#8c8c8c" stroke-width="0.7"/></svg>
<svg style="left:0.00px;top:0.00px;" width="800" height="428" viewBox="0 0 800 428"><rect x="256.10" y="281.50" width="59.80" height="30.40" rx="3.4" fill="rgba(0,0,0,.45)"/><rect x="255.95" y="280.95" width="59.10" height="29.70" rx="3.2" fill="#d8d8d8" stroke="#8c8c8c" stroke-width="0.7"/></svg>
<svg style="left:0.00px;top:0.00px;" width="800" height="428" viewBox="0 0 800 428"><rect x="164.90" y="311.50" width="60.60" height="21.00" rx="3.4" fill="rgba(0,0,0,.45)"/><rect x="164.75" y="310.95" width="59.90" height="20.30" rx="3.2" fill="#d8d8d8" stroke="#8c8c8c" stroke-width="0.7"/></svg>
<svg style="left:0.00px;top:0.00px;" width="800" height="428" viewBox="0 0 800 428"><rect x="164.90" y="337.50" width="60.60" height="21.00" rx="3.4" fill="rgba(0,0,0,.45)"/><rect x="164.75" y="336.95" width="59.90" height="20.30" rx="3.2" fill="#d8d8d8" stroke="#8c8c8c" stroke-width="0.7"/></svg>
<svg style="left:0.00px;top:0.00px;" width="800" height="428" viewBox="0 0 800 428"><rect x="372.50" y="255.50" width="60.00" height="38.40" rx="3.4" fill="rgba(0,0,0,.45)"/><rect x="372.35" y="254.95" width="59.30" height="37.70" rx="3.2" fill="#d8d8d8" stroke="#8c8c8c" stroke-width="0.7"/></svg>
<svg style="left:0.00px;top:0.00px;" width="800" height="428" viewBox="0 0 800 428"><rect x="372.50" y="303.30" width="60.00" height="37.60" rx="3.4" fill="rgba(0,0,0,.45)"/><rect x="372.35" y="302.75" width="59.30" height="36.90" rx="3.2" fill="#d8d8d8" stroke="#8c8c8c" stroke-width="0.7"/></svg>
<svg style="left:167.60px;top:143.40px;" width="12.1" height="11" viewBox="0 0 11 10"><path d="M0.6 3 Q1 1.2 2.6 1.2 H10 V2.7 H8 V7 Q8 7.8 8.8 7.8 Q9.4 7.8 9.8 7.4 V8.6 Q9 9.2 8 9.2 Q6.4 9.2 6.4 7.4 V2.7 H4.2 V9 H2.6 V2.7 Q1.6 2.7 1.2 3.6z" fill="#0a0a0a"/></svg>
<svg style="left:158.80px;top:173.40px;" width="12.1" height="11" viewBox="0 0 11 10"><path d="M0.6 3 Q1 1.2 2.6 1.2 H10 V2.7 H8 V7 Q8 7.8 8.8 7.8 Q9.4 7.8 9.8 7.4 V8.6 Q9 9.2 8 9.2 Q6.4 9.2 6.4 7.4 V2.7 H4.2 V9 H2.6 V2.7 Q1.6 2.7 1.2 3.6z" fill="#0a0a0a"/></svg>
<svg style="left:167.60px;top:315.40px;" width="12.1" height="11" viewBox="0 0 11 10"><path d="M0.6 3 Q1 1.2 2.6 1.2 H10 V2.7 H8 V7 Q8 7.8 8.8 7.8 Q9.4 7.8 9.8 7.4 V8.6 Q9 9.2 8 9.2 Q6.4 9.2 6.4 7.4 V2.7 H4.2 V9 H2.6 V2.7 Q1.6 2.7 1.2 3.6z" fill="#0a0a0a"/></svg>
<svg style="left:167.60px;top:341.40px;" width="12.1" height="11" viewBox="0 0 11 10"><path d="M0.6 3 Q1 1.2 2.6 1.2 H10 V2.7 H8 V7 Q8 7.8 8.8 7.8 Q9.4 7.8 9.8 7.4 V8.6 Q9 9.2 8 9.2 Q6.4 9.2 6.4 7.4 V2.7 H4.2 V9 H2.6 V2.7 Q1.6 2.7 1.2 3.6z" fill="#0a0a0a"/></svg>
<span style="left:181px;top:146px;line-height:5px;font-size:4.8px;color:#101010;transform:translate(0.60px,0.77px) rotate(0.01deg);letter-spacing:-0.134px;font-weight:bold;">SBER@TQBR</span>
<span style="left:173px;top:176px;line-height:5px;font-size:4.8px;color:#101010;transform:translate(0.00px,0.77px) rotate(0.01deg);letter-spacing:-0.127px;font-weight:bold;">SBER@FORTS</span>
<span style="left:267px;top:138px;line-height:6px;font-size:5.2px;color:#101010;transform:translate(0.60px,0.53px) rotate(0.01deg);letter-spacing:-0.072px;font-weight:bold;">TimeFrameCandle__00-05-</span>
<span style="left:267px;top:145px;line-height:6px;font-size:5.2px;color:#101010;transform:translate(0.60px,0.13px) rotate(0.01deg);letter-spacing:0.109px;font-weight:bold;">00</span>
<span style="left:272px;top:168px;line-height:6px;font-size:5.2px;color:#101010;transform:translate(0.00px,0.93px) rotate(0.01deg);letter-spacing:-0.072px;font-weight:bold;">TimeFrameCandle__00-05-</span>
<span style="left:272px;top:175px;line-height:6px;font-size:5.2px;color:#101010;transform:translate(0.00px,0.53px) rotate(0.01deg);letter-spacing:0.109px;font-weight:bold;">00</span>
<span style="left:388px;top:163px;line-height:6px;font-size:5.2px;color:#101010;transform:translate(0.60px,0.93px) rotate(0.01deg);letter-spacing:-0.050px;font-weight:bold;">Chart panel</span>
<span style="left:233px;top:201px;line-height:6px;font-size:5.2px;color:#101010;transform:translate(0.00px,0.93px) rotate(0.01deg);letter-spacing:-0.052px;font-weight:bold;">Candle -&gt; Closing price</span>
<span style="left:245px;top:240px;line-height:6px;font-size:5.2px;color:#101010;transform:translate(0.80px,0.53px) rotate(0.01deg);letter-spacing:0.008px;font-weight:bold;">Candle -&gt; Opening price</span>
<span style="left:177px;top:262px;line-height:6px;font-size:5.2px;color:#101010;transform:translate(0.00px,0.13px) rotate(0.01deg);letter-spacing:-0.026px;font-weight:bold;">Comparison for Hedge</span>
<span style="left:272px;top:292px;line-height:6px;font-size:5.2px;color:#101010;transform:translate(0.00px,0.93px) rotate(0.01deg);letter-spacing:0.036px;font-weight:bold;">Hedging</span>
<span style="left:181px;top:318px;line-height:5px;font-size:4.8px;color:#101010;transform:translate(0.60px,0.97px) rotate(0.01deg);letter-spacing:0.187px;font-weight:bold;">Portfolio</span>
<span style="left:181px;top:344px;line-height:5px;font-size:4.8px;color:#101010;transform:translate(0.60px,0.97px) rotate(0.01deg);font-weight:bold;">1</span>
<span style="left:389px;top:270px;line-height:6px;font-size:5.2px;color:#101010;transform:translate(0.00px,0.93px) rotate(0.01deg);letter-spacing:-0.271px;font-weight:bold;">Buy</span>
<span style="left:389px;top:318px;line-height:6px;font-size:5.2px;color:#101010;transform:translate(0.00px,0.13px) rotate(0.01deg);letter-spacing:-0.159px;font-weight:bold;">Sell</span>
<svg style="left:254.00px;top:140.00px;" width="10" height="10" viewBox="0 0 10 10"><g fill="none" stroke="#2a2a2a" stroke-width="0.6"><path d="M1 1.4 V8.6 H9.4"/><path d="M2.6 7.4 V4.4 M3.8 6.6 V2.4 M5 7.4 V3.6 M6.2 6 V1.8 M7.4 7 V3.2 M8.6 6 V2.6"/></g></svg>
<svg style="left:258.60px;top:170.00px;" width="10" height="10" viewBox="0 0 10 10"><g fill="none" stroke="#2a2a2a" stroke-width="0.6"><path d="M1 1.4 V8.6 H9.4"/><path d="M2.6 7.4 V4.4 M3.8 6.6 V2.4 M5 7.4 V3.6 M6.2 6 V1.8 M7.4 7 V3.2 M8.6 6 V2.6"/></g></svg>
<svg style="left:375.00px;top:162.00px;" width="11" height="10" viewBox="0 0 11 10"><g fill="none" stroke="#2a2a2a" stroke-width="0.7"><path d="M1 1 V9 H10"/><path d="M2.4 7.6 L4.4 5.4 L6 6.6 L9.6 2.4"/></g></svg>
<svg style="left:220.00px;top:200.00px;" width="10" height="10" viewBox="0 0 10 10"><g fill="none" stroke="#0a0a0a" stroke-width="1.1"><path d="M1 3.2 H8.4 M6.2 1.2 L8.6 3.2 L6.2 5.2"/><path d="M9 7.2 H1.6 M3.8 5.2 L1.4 7.2 L3.8 9.2"/></g></svg>
<svg style="left:232.40px;top:238.80px;" width="10" height="10" viewBox="0 0 10 10"><g fill="none" stroke="#0a0a0a" stroke-width="1.1"><path d="M1 3.2 H8.4 M6.2 1.2 L8.6 3.2 L6.2 5.2"/><path d="M9 7.2 H1.6 M3.8 5.2 L1.4 7.2 L3.8 9.2"/></g></svg>
<svg style="left:163.00px;top:259.60px;" width="11" height="11" viewBox="0 0 11 11"><g fill="none" stroke="#555" stroke-width="0.6"><path d="M5.4 3.2 V8.6 M3 9 H7.8 M1.6 4.6 H9.2"/><path d="M0.6 6.6 Q1.6 8 2.8 6.6 L1.7 4.6z M8 6.6 Q9 8 10.2 6.6 L9.1 4.6z"/></g><rect x="4.4" y="1" width="2" height="2.4" fill="#f0a020"/></svg>
<svg style="left:259.00px;top:291.00px;" width="9" height="11" viewBox="0 0 9 11"><g fill="none" stroke="#555" stroke-width="0.6"><path d="M4.4 0.8 Q6 2 8 2 Q8 7.6 4.4 9.8 Q0.8 7.6 0.8 2 Q2.8 2 4.4 0.8z"/><path d="M4.4 2.8 Q5.4 3.4 6.4 3.4 Q6.4 6.4 4.4 7.8 Q2.4 6.4 2.4 3.4 Q3.4 3.4 4.4 2.8z"/></g></svg>
<svg style="left:375.00px;top:269.40px;" width="11" height="10" viewBox="0 0 11 10"><g fill="none" stroke="#444" stroke-width="0.7"><path d="M0.6 1 H2.2 L3.6 6.4 H8.8 L9.8 2.8 H2.8"/><path d="M3.6 6.4 L3 7.6 H9"/></g><circle cx="4" cy="8.8" r="0.8" fill="#444"/><circle cx="8.2" cy="8.8" r="0.8" fill="#444"/></svg>
<svg style="left:375.00px;top:316.60px;" width="11" height="10" viewBox="0 0 11 10"><g fill="none" stroke="#444" stroke-width="0.7"><path d="M0.6 1 H2.2 L3.6 6.4 H8.8 L9.8 2.8 H2.8"/><path d="M3.6 6.4 L3 7.6 H9"/></g><circle cx="4" cy="8.8" r="0.8" fill="#444"/><circle cx="8.2" cy="8.8" r="0.8" fill="#444"/></svg>
<svg style="left:0.00px;top:0.00px;" width="800" height="428" viewBox="0 0 800 428"><rect x="159.30" y="143.50" width="3" height="3" fill="#1f9a1f" stroke="rgba(10,10,10,.5)" stroke-width="0.4"/></svg>
<svg style="left:0.00px;top:0.00px;" width="800" height="428" viewBox="0 0 800 428"><rect x="159.30" y="151.70" width="3" height="3" fill="#050505" stroke="rgba(10,10,10,.5)" stroke-width="0.4"/></svg>
<svg style="left:0.00px;top:0.00px;" width="800" height="428" viewBox="0 0 800 428"><rect x="150.50" y="173.50" width="3" height="3" fill="#0e6a12" stroke="rgba(10,10,10,.5)" stroke-width="0.4"/></svg>
<svg style="left:0.00px;top:0.00px;" width="800" height="428" viewBox="0 0 800 428"><rect x="150.50" y="181.70" width="3" height="3" fill="#050505" stroke="rgba(10,10,10,.5)" stroke-width="0.4"/></svg>
<svg style="left:0.00px;top:0.00px;" width="800" height="428" viewBox="0 0 800 428"><circle cx="229" cy="149" r="2.7" fill="#c0c0c0"/><rect x="227.50" y="147.50" width="3" height="3" fill="#1f9a1f"/></svg>
<svg style="left:0.00px;top:0.00px;" width="800" height="428" viewBox="0 0 800 428"><rect x="219.10" y="177.90" width="3" height="3" fill="#1f9a1f" stroke="rgba(10,10,10,.5)" stroke-width="0.4"/></svg>
<svg style="left:0.00px;top:0.00px;" width="800" height="428" viewBox="0 0 800 428"><rect x="245.90" y="143.50" width="3" height="3" fill="#0e6a12" stroke="rgba(10,10,10,.5)" stroke-width="0.4"/></svg>
<svg style="left:0.00px;top:0.00px;" width="800" height="428" viewBox="0 0 800 428"><rect x="336.90" y="143.50" width="3" height="3" fill="#f0501a" stroke="rgba(10,10,10,.5)" stroke-width="0.4"/></svg>
<svg style="left:0.00px;top:0.00px;" width="800" height="428" viewBox="0 0 800 428"><rect x="249.90" y="173.10" width="3" height="3" fill="#0e6a12" stroke="rgba(10,10,10,.5)" stroke-width="0.4"/></svg>
<svg style="left:0.00px;top:0.00px;" width="800" height="428" viewBox="0 0 800 428"><circle cx="343.4" cy="175" r="2.7" fill="#c0c0c0"/><rect x="341.90" y="173.50" width="3" height="3" fill="#f0501a"/></svg>
<svg style="left:0.00px;top:0.00px;" width="800" height="428" viewBox="0 0 800 428"><rect x="366.10" y="157.90" width="3" height="3" fill="#f0501a" stroke="rgba(10,10,10,.5)" stroke-width="0.4"/></svg>
<svg style="left:0.00px;top:0.00px;" width="800" height="428" viewBox="0 0 800 428"><rect x="366.10" y="165.50" width="3" height="3" fill="#f0501a" stroke="rgba(10,10,10,.5)" stroke-width="0.4"/></svg>
<svg style="left:0.00px;top:0.00px;" width="800" height="428" viewBox="0 0 800 428"><rect x="366.10" y="173.10" width="3" height="3" fill="#050505" stroke="rgba(10,10,10,.5)" stroke-width="0.4"/></svg>
<svg style="left:0.00px;top:0.00px;" width="800" height="428" viewBox="0 0 800 428"><rect x="211.30" y="203.50" width="3" height="3" fill="#f0501a" stroke="rgba(10,10,10,.5)" stroke-width="0.4"/></svg>
<svg style="left:0.00px;top:0.00px;" width="800" height="428" viewBox="0 0 800 428"><circle cx="297" cy="205" r="2.7" fill="#c0c0c0"/><rect x="295.50" y="203.50" width="3" height="3" fill="#2ecf6a"/></svg>
<svg style="left:0.00px;top:0.00px;" width="800" height="428" viewBox="0 0 800 428"><rect x="223.90" y="242.50" width="3" height="3" fill="#f0501a" stroke="rgba(10,10,10,.5)" stroke-width="0.4"/></svg>
<svg style="left:0.00px;top:0.00px;" width="800" height="428" viewBox="0 0 800 428"><rect x="311.10" y="242.50" width="3" height="3" fill="#2ecf6a" stroke="rgba(10,10,10,.5)" stroke-width="0.4"/></svg>
<svg style="left:0.00px;top:0.00px;" width="800" height="428" viewBox="0 0 800 428"><rect x="154.90" y="260.10" width="3" height="3" fill="#5a40d8" stroke="rgba(10,10,10,.5)" stroke-width="0.4"/></svg>
<svg style="left:0.00px;top:0.00px;" width="800" height="428" viewBox="0 0 800 428"><rect x="154.90" y="267.90" width="3" height="3" fill="#5a40d8" stroke="rgba(10,10,10,.5)" stroke-width="0.4"/></svg>
<svg style="left:0.00px;top:0.00px;" width="800" height="428" viewBox="0 0 800 428"><rect x="237.90" y="263.90" width="3" height="3" fill="#1e90ff" stroke="rgba(10,10,10,.5)" stroke-width="0.4"/></svg>
<svg style="left:0.00px;top:0.00px;" width="800" height="428" viewBox="0 0 800 428"><rect x="249.50" y="282.90" width="3" height="3" fill="#0e6a12" stroke="rgba(10,10,10,.5)" stroke-width="0.4"/></svg>
<svg style="left:0.00px;top:0.00px;" width="800" height="428" viewBox="0 0 800 428"><rect x="249.50" y="290.90" width="3" height="3" fill="#2ecf6a" stroke="rgba(10,10,10,.5)" stroke-width="0.4"/></svg>
<svg style="left:0.00px;top:0.00px;" width="800" height="428" viewBox="0 0 800 428"><rect x="249.50" y="298.10" width="3" height="3" fill="#2ecf6a" stroke="rgba(10,10,10,.5)" stroke-width="0.4"/></svg>
<svg style="left:0.00px;top:0.00px;" width="800" height="428" viewBox="0 0 800 428"><rect x="249.50" y="306.10" width="3" height="3" fill="#1e90ff" stroke="rgba(10,10,10,.5)" stroke-width="0.4"/></svg>
<svg style="left:0.00px;top:0.00px;" width="800" height="428" viewBox="0 0 800 428"><rect x="318.50" y="294.50" width="3" height="3" fill="#9a8a10" stroke="rgba(10,10,10,.5)" stroke-width="0.4"/></svg>
<svg style="left:0.00px;top:0.00px;" width="800" height="428" viewBox="0 0 800 428"><rect x="159.10" y="316.10" width="3" height="3" fill="#d82a2a" stroke="rgba(10,10,10,.5)" stroke-width="0.4"/></svg>
<svg style="left:0.00px;top:0.00px;" width="800" height="428" viewBox="0 0 800 428"><rect x="159.10" y="323.90" width="3" height="3" fill="#050505" stroke="rgba(10,10,10,.5)" stroke-width="0.4"/></svg>
<svg style="left:0.00px;top:0.00px;" width="800" height="428" viewBox="0 0 800 428"><rect x="227.50" y="319.70" width="3" height="3" fill="#d82a2a" stroke="rgba(10,10,10,.5)" stroke-width="0.4"/></svg>
<svg style="left:0.00px;top:0.00px;" width="800" height="428" viewBox="0 0 800 428"><rect x="159.10" y="341.70" width="3" height="3" fill="#2ecf6a" stroke="rgba(10,10,10,.5)" stroke-width="0.4"/></svg>
<svg style="left:0.00px;top:0.00px;" width="800" height="428" viewBox="0 0 800 428"><rect x="159.10" y="349.50" width="3" height="3" fill="#050505" stroke="rgba(10,10,10,.5)" stroke-width="0.4"/></svg>
<svg style="left:0.00px;top:0.00px;" width="800" height="428" viewBox="0 0 800 428"><rect x="227.50" y="345.90" width="3" height="3" fill="#2ecf6a" stroke="rgba(10,10,10,.5)" stroke-width="0.4"/></svg>
<svg style="left:0.00px;top:0.00px;" width="800" height="428" viewBox="0 0 800 428"><rect x="366.50" y="256.90" width="3" height="3" fill="#0e6a12" stroke="rgba(10,10,10,.5)" stroke-width="0.4"/></svg>
<svg style="left:0.00px;top:0.00px;" width="800" height="428" viewBox="0 0 800 428"><rect x="366.50" y="264.50" width="3" height="3" fill="#050505" stroke="rgba(10,10,10,.5)" stroke-width="0.4"/></svg>
<svg style="left:0.00px;top:0.00px;" width="800" height="428" viewBox="0 0 800 428"><rect x="366.50" y="272.50" width="3" height="3" fill="#2ecf6a" stroke="rgba(10,10,10,.5)" stroke-width="0.4"/></svg>
<svg style="left:0.00px;top:0.00px;" width="800" height="428" viewBox="0 0 800 428"><rect x="366.50" y="280.10" width="3" height="3" fill="#2ecf6a" stroke="rgba(10,10,10,.5)" stroke-width="0.4"/></svg>
<svg style="left:0.00px;top:0.00px;" width="800" height="428" viewBox="0 0 800 428"><rect x="366.50" y="287.90" width="3" height="3" fill="#d82a2a" stroke="rgba(10,10,10,.5)" stroke-width="0.4"/></svg>
<svg style="left:0.00px;top:0.00px;" width="800" height="428" viewBox="0 0 800 428"><rect x="366.50" y="304.10" width="3" height="3" fill="#0e6a12" stroke="rgba(10,10,10,.5)" stroke-width="0.4"/></svg>
<svg style="left:0.00px;top:0.00px;" width="800" height="428" viewBox="0 0 800 428"><rect x="366.50" y="312.10" width="3" height="3" fill="#050505" stroke="rgba(10,10,10,.5)" stroke-width="0.4"/></svg>
<svg style="left:0.00px;top:0.00px;" width="800" height="428" viewBox="0 0 800 428"><rect x="366.50" y="319.90" width="3" height="3" fill="#2ecf6a" stroke="rgba(10,10,10,.5)" stroke-width="0.4"/></svg>
<svg style="left:0.00px;top:0.00px;" width="800" height="428" viewBox="0 0 800 428"><rect x="366.50" y="327.50" width="3" height="3" fill="#2ecf6a" stroke="rgba(10,10,10,.5)" stroke-width="0.4"/></svg>
<svg style="left:0.00px;top:0.00px;" width="800" height="428" viewBox="0 0 800 428"><rect x="366.50" y="335.50" width="3" height="3" fill="#d82a2a" stroke="rgba(10,10,10,.5)" stroke-width="0.4"/></svg>
<svg style="left:0.00px;top:0.00px;" width="800" height="428" viewBox="0 0 800 428"><rect x="434.50" y="268.90" width="3" height="3" fill="#9a8a10" stroke="rgba(10,10,10,.5)" stroke-width="0.4"/></svg>
<svg style="left:0.00px;top:0.00px;" width="800" height="428" viewBox="0 0 800 428"><rect x="434.50" y="276.10" width="3" height="3" fill="#ff86ac" stroke="rgba(10,10,10,.5)" stroke-width="0.4"/></svg>
<svg style="left:0.00px;top:0.00px;" width="800" height="428" viewBox="0 0 800 428"><rect x="434.50" y="316.10" width="3" height="3" fill="#9a8a10" stroke="rgba(10,10,10,.5)" stroke-width="0.4"/></svg>
<svg style="left:0.00px;top:0.00px;" width="800" height="428" viewBox="0 0 800 428"><rect x="434.50" y="323.90" width="3" height="3" fill="#ff86ac" stroke="rgba(10,10,10,.5)" stroke-width="0.4"/></svg>
<div style="left:470px;top:113px;width:3.4px;height:9px;background-image:radial-gradient(circle at 0.4px 0.4px,#8a8a8e 0.45px,transparent 0.55px),radial-gradient(circle at 1.2px 1.3px,#8a8a8e 0.45px,transparent 0.55px);background-size:1.7px 1.8px;opacity:.75"></div>
<svg style="left:475.00px;top:112.40px;" width="10" height="10" viewBox="0 0 10 10"><path d="M5 1 V9 M1 5 H9" stroke="#8c8c8e" stroke-width="1.5"/></svg>
<div style="left:487.60px;top:112.20px;width:60.00px;height:10.40px;background:#333337;"></div>
<svg style="left:490.00px;top:114.00px;" width="5" height="7" viewBox="0 0 5 7"><path d="M1.4 0.6 V6.4 M3.2 1.4 V5.6" stroke="#e6e6e6" stroke-width="0.6"/><rect x="0.8" y="2" width="1.2" height="3" fill="#e6e6e6"/></svg>
<span style="left:498px;top:114px;line-height:7px;font-size:6.3px;color:#f1f1f1;transform:translate(0.60px,0.08px) rotate(0.01deg);letter-spacing:-0.269px;">Candlestick</span>
<svg style="left:540.00px;top:115.60px;" width="6" height="4" viewBox="0 0 6 4"><path d="M0.8 0.6 h4 l-2 2.2z" fill="#f1f1f1"/></svg>
<div style="left:551.00px;top:112.00px;width:0.60px;height:11.00px;background:#46464a;"></div>
<div style="left:554.40px;top:111.80px;width:11.20px;height:10.80px;background:#2b2c30;border:0.8px solid #1a649c;box-sizing:border-box;"></div>
<div style="left:577.40px;top:111.80px;width:11.20px;height:10.80px;background:#2b2c30;border:0.8px solid #1a649c;box-sizing:border-box;"></div>
<div style="left:600.40px;top:111.80px;width:11.20px;height:10.80px;background:#2b2c30;border:0.8px solid #1a649c;box-sizing:border-box;"></div>
<div style="left:623.20px;top:111.80px;width:11.20px;height:10.80px;background:#2b2c30;border:0.8px solid #1a649c;box-sizing:border-box;"></div>
<svg style="left:554.40px;top:111.80px;" width="12" height="11" viewBox="0 0 12 11"><g stroke="#9a9a9c" stroke-width="0.7" fill="none"><path d="M2 5.4 H9.2 M3.4 4 L2 5.4 L3.4 6.8 M7.8 4 L9.2 5.4 L7.8 6.8"/></g><circle cx="5.6" cy="5.4" r="0.9" fill="#9a9a9c"/></svg>
<svg style="left:566.60px;top:111.80px;" width="10" height="11" viewBox="0 0 10 11"><g stroke="#f1f1f1" stroke-width="1.1" fill="none"><path d="M3 9 V2.4 M1.2 4.2 L3 2.2 L4.8 4.2"/><path d="M7 2 V8.6 M5.2 6.8 L7 8.8 L8.8 6.8"/></g></svg>
<svg style="left:577.40px;top:111.80px;" width="12" height="11" viewBox="0 0 12 11"><g stroke="#d8d8d8" stroke-width="0.7" fill="none"><rect x="2" y="2" width="7.2" height="7"/><path d="M4.4 3.8 H8 M4.4 5.5 H8 M4.4 7.2 H8"/></g><g fill="#d8d8d8"><rect x="2.8" y="3.4" width="0.9" height="0.9"/><rect x="2.8" y="5.1" width="0.9" height="0.9"/><rect x="2.8" y="6.8" width="0.9" height="0.9"/></g></svg>
<svg style="left:589.60px;top:111.80px;" width="10" height="11" viewBox="0 0 10 11"><path d="M2 2 H6 L8 4 V9 H2z" stroke="#d8d8d8" stroke-width="0.8" fill="none"/><rect x="2.4" y="7.6" width="5.2" height="1.2" fill="#d8d8d8"/></svg>
<svg style="left:600.40px;top:111.80px;" width="12" height="11" viewBox="0 0 12 11"><path d="M5.6 1.6 V9.4 M1.8 5.4 H9.4" stroke="#d8d8d8" stroke-width="1.2"/><rect x="4.6" y="4.4" width="2" height="2" fill="#2a2d33"/></svg>
<svg style="left:612.40px;top:111.80px;" width="10" height="11" viewBox="0 0 10 11"><path d="M1.6 2.4 H8.6 V7 H5 L3.4 8.6 V7 H1.6z" stroke="#d8d8d8" stroke-width="0.8" fill="none"/><rect x="2.8" y="3.8" width="4.6" height="1.8" fill="#8a8a8c"/></svg>
<svg style="left:623.20px;top:111.80px;" width="12" height="11" viewBox="0 0 12 11"><path d="M2.4 8.6 H9 V2.4 H6 V5.6 H2.4z" stroke="#d8d8d8" stroke-width="0.9" fill="none"/></svg>
<svg style="left:638.00px;top:111.80px;" width="124" height="11" viewBox="0 0 124 11">
<path d="M3.6 8.6 L10 2.4" stroke="#d8d8d8" stroke-width="0.9"/>
<path d="M15 5.6 H22.6 M20.6 3.8 L22.8 5.6 L20.6 7.4" stroke="#a8a8aa" stroke-width="0.7" fill="none"/>
<rect x="30.2" y="1" width="1" height="9" fill="#9a9a9c"/>
<path d="M36.6 5.8 H45" stroke="#d8d8d8" stroke-width="0.8"/>
<rect x="49.4" y="3" width="7.6" height="5" stroke="#b8b8b8" stroke-width="0.7" fill="none"/>
<path d="M72.6 8 A3.8 3.8 0 1 1 80 8z" stroke="#d8d8d8" stroke-width="0.8" fill="none"/><path d="M76.2 7.6 L77.8 5" stroke="#d8d8d8" stroke-width="0.7"/>
<rect x="84.8" y="1.6" width="0.6" height="8.4" fill="#46464a"/>
<path d="M90.4 7.4 L94.8 3.4 L96.2 5 L91.8 9z" fill="#3c3c40"/>
<path d="M99.8 4.8 h3.4 l-1.7 1.9z" fill="#5a5a5e"/>
<path d="M107.4 1.8 H112.6 L114 3.2 V9 H107.4z" fill="#d8d8d8"/><rect x="108.6" y="2.6" width="3" height="2" fill="#2d2d30"/><rect x="108.6" y="6" width="4" height="2.4" fill="#2d2d30"/><circle cx="113" cy="8.4" r="1.3" fill="#d8d8d8"/>
<path d="M121.6 6.4 V8.8 H119.2z" fill="#d8d8d8"/>
</svg>
<span style="left:699px;top:114px;line-height:6px;font-size:5.8px;color:#e6e6e6;transform:translate(0.20px,0.68px) rotate(0.01deg);letter-spacing:0.089px;font-weight:bold;">Aa</span>
<div style="left:479.00px;top:133.20px;width:271.00px;height:230.60px;background:#333335;"></div>
<svg style="left:0.00px;top:0.00px;" width="800" height="428" viewBox="0 0 800 428"><path d="M506 133.2 V367.6 M543.3 133.2 V367.6 M580.8 133.2 V367.6 M618 133.2 V367.6 M650.6 133.2 V367.6 M687.6 133.2 V367.6 M725.2 133.2 V367.6 M744.5 133.2 V367.6 M479 145 H753.8 M479 167.6 H753.8 M479 190.2 H753.8 M479 213 H753.8 M479 236 H753.8 M479 259.4 H753.8 M479 282.6 H753.8 M479 305.6 H753.8 M479 328.8 H753.8 M479 352 H753.8 M479 133.2 H750 M479 133.2 V363.8 M479 363.8 H750 M750 133.2 V363.8" fill="none" stroke="#686868" stroke-width="0.7"/></svg>
<span style="left:755px;top:141px;line-height:7px;font-size:6.4px;color:#f1f1f1;transform:translate(0.60px,0.82px) rotate(0.01deg);letter-spacing:-0.440px;">191.5</span>
<span style="left:755px;top:164px;line-height:7px;font-size:6.4px;color:#f1f1f1;transform:translate(0.60px,0.42px) rotate(0.01deg);letter-spacing:-0.491px;">191</span>
<span style="left:755px;top:187px;line-height:7px;font-size:6.4px;color:#f1f1f1;transform:translate(0.60px,0.02px) rotate(0.01deg);letter-spacing:-0.440px;">190.5</span>
<span style="left:755px;top:209px;line-height:7px;font-size:6.4px;color:#f1f1f1;transform:translate(0.60px,0.82px) rotate(0.01deg);letter-spacing:-0.491px;">190</span>
<span style="left:755px;top:232px;line-height:7px;font-size:6.4px;color:#f1f1f1;transform:translate(0.60px,0.82px) rotate(0.01deg);letter-spacing:-0.440px;">189.5</span>
<span style="left:755px;top:256px;line-height:7px;font-size:6.4px;color:#f1f1f1;transform:translate(0.60px,0.22px) rotate(0.01deg);letter-spacing:-0.491px;">189</span>
<span style="left:755px;top:279px;line-height:7px;font-size:6.4px;color:#f1f1f1;transform:translate(0.60px,0.42px) rotate(0.01deg);letter-spacing:-0.440px;">188.5</span>
<span style="left:755px;top:302px;line-height:7px;font-size:6.4px;color:#f1f1f1;transform:translate(0.60px,0.42px) rotate(0.01deg);letter-spacing:-0.491px;">188</span>
<span style="left:755px;top:325px;line-height:7px;font-size:6.4px;color:#f1f1f1;transform:translate(0.60px,0.62px) rotate(0.01deg);letter-spacing:-0.440px;">187.5</span>
<span style="left:755px;top:348px;line-height:7px;font-size:6.4px;color:#f1f1f1;transform:translate(0.60px,0.82px) rotate(0.01deg);letter-spacing:-0.491px;">187</span>
<span style="left:528px;top:370px;line-height:7px;font-size:6.2px;color:#f1f1f1;transform:translate(0.10px,0.24px) rotate(0.01deg);letter-spacing:-0.266px;">2:00:00 PM</span>
<span style="left:565px;top:370px;line-height:7px;font-size:6.2px;color:#f1f1f1;transform:translate(0.40px,0.24px) rotate(0.01deg);letter-spacing:-0.206px;">4:00:00 PM</span>
<span style="left:634px;top:370px;line-height:7px;font-size:6.2px;color:#f1f1f1;transform:translate(0.70px,0.24px) rotate(0.01deg);letter-spacing:-0.191px;">11:00:00 AM</span>
<span style="left:711px;top:370px;line-height:7px;font-size:6.2px;color:#f1f1f1;transform:translate(0.40px,0.24px) rotate(0.01deg);letter-spacing:-0.326px;">3:00:00 PM</span>
<svg style="left:0.00px;top:0.00px;" width="800" height="428" viewBox="0 0 800 428"><path d="M484.3 287.5 V299.0 M486.9 264.7 V300.9 M489.5 213.5 V311.8 M491.0 173.2 V282.2 M493.8 134.2 V216.1 M495.5 134.2 V168.8 M503.7 170.1 V194.9 M513.0 189.9 V215.8 M520.0 217.6 V241.3 M535.8 236.1 V254.8 M541.0 222.2 V245.4 M543.8 215.1 V237.0 M547.9 216.9 V241.8 M553.1 219.9 V241.5 M557.2 220.4 V232.7 M565.9 232.6 V248.1 M567.2 223.7 V244.6 M568.7 230.6 V244.4 M570.4 230.4 V242.4 M574.7 235.3 V249.3 M582.9 225.6 V253.1 M584.2 225.0 V248.6 M585.9 223.3 V244.1 M588.5 219.2 V238.3 M590.0 226.9 V235.7 M592.6 225.2 V240.7 M594.1 221.8 V234.4 M595.4 217.7 V239.8 M596.9 212.3 V233.6 M598.6 213.6 V225.8 M601.9 211.4 V233.6 M604.7 221.7 V249.4 M608.0 226.0 V249.5 M627.0 329.2 V363.3 M628.7 312.3 V363.3 M631.3 278.5 V331.2 M633.3 268.7 V302.2 M635.0 274.1 V291.7 M640.1 269.8 V285.5 M641.8 266.5 V281.4 M643.3 260.0 V285.9 M645.0 258.5 V277.0 M646.5 248.1 V278.2 M649.1 244.7 V267.7 M650.4 243.3 V271.2 M651.9 242.7 V261.0 M653.9 236.6 V259.3 M655.4 239.1 V256.4 M658.0 237.1 V250.8 M660.0 233.8 V243.6 M661.5 225.5 V245.0 M662.8 224.1 V247.9 M664.3 226.4 V238.6 M666.0 226.5 V241.0 M667.3 219.8 V237.1 M669.3 217.5 V241.6 M676.8 220.3 V240.2 M679.8 220.1 V241.2 M683.5 220.1 V239.5 M685.2 216.8 V228.5 M689.5 214.4 V234.2 M691.5 214.2 V234.3 M694.1 211.4 V226.1 M701.7 233.2 V245.1 M703.7 234.4 V247.8 M708.3 232.4 V246.6 M712.0 229.5 V248.9 M716.8 233.8 V258.9 M718.8 239.1 V259.8 M723.4 243.6 V261.7 M731.4 224.0 V244.4 M740.7 221.0 V231.7 M742.7 207.5 V228.1 M745.3 193.9 V217.0 M746.8 193.9 V215.4 " fill="none" stroke="#0f8418" stroke-width="0.9"/><path d="M480.4 276.2 V297.3 M483.0 284.3 V308.1 M492.5 135.3 V244.7 M497.0 134.2 V180.7 M498.7 134.2 V198.4 M500.7 154.6 V188.2 M502.0 162.3 V195.2 M505.4 174.3 V192.5 M508.0 180.6 V204.1 M509.7 185.6 V201.2 M511.0 190.1 V209.9 M515.0 203.1 V225.3 M517.0 212.0 V229.2 M518.5 205.8 V230.5 M522.6 225.0 V252.0 M525.2 232.6 V248.9 M526.5 230.1 V253.1 M529.1 237.7 V247.4 M530.8 239.8 V247.7 M532.5 235.9 V253.7 M534.5 238.9 V255.3 M538.4 223.7 V250.2 M542.3 224.1 V241.5 M545.3 215.9 V238.0 M549.9 217.8 V241.7 M551.6 224.9 V236.3 M554.4 218.7 V239.3 M555.7 219.2 V242.0 M559.2 217.8 V231.7 M560.7 217.1 V236.1 M563.3 220.0 V245.6 M572.1 231.4 V253.6 M576.2 231.6 V249.6 M578.8 238.2 V254.1 M581.4 233.2 V261.2 M591.3 222.1 V235.1 M600.6 218.8 V236.6 M603.2 224.0 V244.7 M606.7 223.0 V249.2 M609.7 234.7 V268.2 M611.2 235.1 V271.3 M613.8 247.3 V298.0 M615.3 258.4 V302.3 M617.0 270.1 V309.3 M618.5 272.0 V328.3 M619.8 285.8 V332.9 M621.8 296.9 V348.5 M623.8 322.2 V361.7 M625.3 329.3 V363.3 M636.7 273.0 V287.2 M638.4 270.1 V287.6 M671.0 217.3 V235.1 M673.6 226.1 V240.4 M675.1 228.0 V242.6 M678.5 217.9 V240.1 M681.8 217.8 V239.5 M686.5 212.8 V226.4 M687.8 208.8 V227.6 M696.1 220.0 V241.3 M698.7 220.2 V242.8 M700.4 230.7 V248.4 M705.7 233.7 V242.7 M707.0 231.6 V250.5 M710.3 226.7 V246.4 M713.5 226.6 V248.5 M715.5 233.2 V260.0 M720.8 246.8 V255.2 M725.4 230.0 V246.4 M728.0 231.3 V249.6 M729.7 229.4 V251.2 M734.0 220.3 V243.4 M735.7 218.1 V239.0 M737.2 219.8 V237.4 M738.7 217.5 V236.1 " fill="none" stroke="#e4102c" stroke-width="0.9"/></svg>
<svg style="left:0.00px;top:0.00px;" width="800" height="428" viewBox="0 0 800 428"><clipPath id="pc"><rect x="479" y="133.2" width="271" height="230.6"/></clipPath><g clip-path="url(#pc)"><path d="M482 302.0 L485 305.1 H483.3 V309.0 H480.7 V305.1 H479z M486 283.2 L489 286.3 H487.3 V290.2 H484.7 V286.3 H483z M490 232.5 L493 235.6 H491.3 V239.5 H488.7 V235.6 H487z M492 208.5 L495 211.6 H493.3 V215.5 H490.7 V211.6 H489z M496 196.5 L499 199.6 H497.3 V203.5 H494.7 V199.6 H493z M499 197.5 L502 200.6 H500.3 V204.5 H497.7 V200.6 H496z M502 202.5 L505 205.6 H503.3 V209.5 H500.7 V205.6 H499z M505 208.5 L508 211.6 H506.3 V215.5 H503.7 V211.6 H502z M508 209.5 L511 212.6 H509.3 V216.5 H506.7 V212.6 H505z M512 206.5 L515 209.6 H513.3 V213.5 H510.7 V209.6 H509z M515 214.5 L518 217.6 H516.3 V221.5 H513.7 V217.6 H512z M518 227.5 L521 230.6 H519.3 V234.5 H516.7 V230.6 H515z M521 222.5 L524 225.6 H522.3 V229.5 H519.7 V225.6 H518z M524 253.5 L527 256.6 H525.3 V260.5 H522.7 V256.6 H521z M527 254.5 L530 257.6 H528.3 V261.5 H525.7 V257.6 H524z M530 240.5 L533 243.6 H531.3 V247.5 H528.7 V243.6 H527z M533 246.5 L536 249.6 H534.3 V253.5 H531.7 V249.6 H530z M536 253.5 L539 256.6 H537.3 V260.5 H534.7 V256.6 H533z M539 244.5 L542 247.6 H540.3 V251.5 H537.7 V247.6 H536z M542 235.5 L545 238.6 H543.3 V242.5 H540.7 V238.6 H539z M545 234.5 L548 237.6 H546.3 V241.5 H543.7 V237.6 H542z M549 240.5 L552 243.6 H550.3 V247.5 H547.7 V243.6 H546z M552 235.5 L555 238.6 H553.3 V242.5 H550.7 V238.6 H549z M555 243.5 L558 246.6 H556.3 V250.5 H553.7 V246.6 H552z M558 241.5 L561 244.6 H559.3 V248.5 H556.7 V244.6 H555z M562 232.5 L565 235.6 H563.3 V239.5 H560.7 V235.6 H559z M565 237.5 L568 240.6 H566.3 V244.5 H563.7 V240.6 H562z M568 243.5 L571 246.6 H569.3 V250.5 H566.7 V246.6 H565z M571 250.5 L574 253.6 H572.3 V257.5 H569.7 V253.6 H568z M574 243.5 L577 246.6 H575.3 V250.5 H572.7 V246.6 H571z M577 252.5 L580 255.6 H578.3 V259.5 H575.7 V255.6 H574z M580.4 259.5 L583.4 262.6 H581.6999999999999 V266.5 H579.1 V262.6 H577.4z M583 246.5 L586 249.6 H584.3 V253.5 H581.7 V249.6 H580z M586 244.5 L589 247.6 H587.3 V251.5 H584.7 V247.6 H583z M589 236.5 L592 239.6 H590.3 V243.5 H587.7 V239.6 H586z M592 241.5 L595 244.6 H593.3 V248.5 H590.7 V244.6 H589z M595 228.5 L598 231.6 H596.3 V235.5 H593.7 V231.6 H592z M598 234.5 L601 237.6 H599.3 V241.5 H596.7 V237.6 H595z M601 234.5 L604 237.6 H602.3 V241.5 H599.7 V237.6 H598z M605 250.5 L608 253.6 H606.3 V257.5 H603.7 V253.6 H602z M608 246.5 L611 249.6 H609.3 V253.5 H606.7 V249.6 H605z M611.6 289.5 L614.6 292.6 H612.9 V296.5 H610.3000000000001 V292.6 H608.6z M617.3 294.5 L620.3 297.6 H618.5999999999999 V301.5 H616.0 V297.6 H614.3z M621.8 328.5 L624.8 331.6 H623.0999999999999 V335.5 H620.5 V331.6 H618.8z M626.8 341.5 L629.8 344.6 H628.0999999999999 V348.5 H625.5 V344.6 H623.8z M623.6 356.5 L626.6 359.6 H624.9 V363.5 H622.3000000000001 V359.6 H620.6z M636 294.9 L639 298.0 H637.3 V301.9 H634.7 V298.0 H633z M638.8 273.5 L641.8 276.6 H640.0999999999999 V280.5 H637.5 V276.6 H635.8z M642 281.5 L645 284.6 H643.3 V288.5 H640.7 V284.6 H639z M646.6 277.9 L649.6 281.0 H647.9 V284.9 H645.3000000000001 V281.0 H643.6z M654.6 261.5 L657.6 264.6 H655.9 V268.5 H653.3000000000001 V264.6 H651.6z M661.4 270.8 L664.4 273.90000000000003 H662.6999999999999 V277.8 H660.1 V273.90000000000003 H658.4z M658 247.5 L661 250.6 H659.3 V254.5 H656.7 V250.6 H655z M663 244.5 L666 247.6 H664.3 V251.5 H661.7 V247.6 H660z M667 244.5 L670 247.6 H668.3 V251.5 H665.7 V247.6 H664z M670 222.5 L673 225.6 H671.3 V229.5 H668.7 V225.6 H667z M674 242.5 L677 245.6 H675.3 V249.5 H672.7 V245.6 H671z M679 244.5 L682 247.6 H680.3 V251.5 H677.7 V247.6 H676z M682 232.5 L685 235.6 H683.3 V239.5 H680.7 V235.6 H679z M685 229.5 L688 232.6 H686.3 V236.5 H683.7 V232.6 H682z M689 234.5 L692 237.6 H690.3 V241.5 H687.7 V237.6 H686z M692 223.5 L695 226.6 H693.3 V230.5 H690.7 V226.6 H689z M696 238.5 L699 241.6 H697.3 V245.5 H694.7 V241.6 H693z M699 244.5 L702 247.6 H700.3 V251.5 H697.7 V247.6 H696z M702 252.5 L705 255.6 H703.3 V259.5 H700.7 V255.6 H699z M705 249.5 L708 252.6 H706.3 V256.5 H703.7 V252.6 H702z M708 241.5 L711 244.6 H709.3 V248.5 H706.7 V244.6 H705z M711 240.5 L714 243.6 H712.3 V247.5 H709.7 V243.6 H708z M714 245.5 L717 248.6 H715.3 V252.5 H712.7 V248.6 H711z M717 253.5 L720 256.6 H718.3 V260.5 H715.7 V256.6 H714z M720 254.5 L723 257.6 H721.3 V261.5 H718.7 V257.6 H717z M723 251.5 L726 254.6 H724.3 V258.5 H721.7 V254.6 H720z M727 244.5 L730 247.6 H728.3 V251.5 H725.7 V247.6 H724z M731 236.5 L734 239.6 H732.3 V243.5 H729.7 V239.6 H728z M735 233.5 L738 236.6 H736.3 V240.5 H733.7 V236.6 H732z M738 232.5 L741 235.6 H739.3 V239.5 H736.7 V235.6 H735z M742 234.5 L745 237.6 H743.3 V241.5 H740.7 V237.6 H739z M745 216.5 L748 219.6 H746.3 V223.5 H743.7 V219.6 H742z M748.6 211.5 L751.6 214.6 H749.9 V218.5 H747.3000000000001 V214.6 H745.6z " fill="#333335" fill-opacity="0.6" stroke="#24ea26" stroke-width="0.85"/><path d="M480 278.5 L483 275.4 H481.3 V271.5 H478.7 V275.4 H477z M482 292.1 L485 289.0 H483.3 V285.1 H480.7 V289.0 H479z M486 260.5 L489 257.4 H487.3 V253.5 H484.7 V257.4 H483z M489 203.5 L492 200.4 H490.3 V196.5 H487.7 V200.4 H486z M492.6 176.5 L495.6 173.4 H493.90000000000003 V169.5 H491.3 V173.4 H489.6z M495 152.5 L498 149.4 H496.3 V145.5 H493.7 V149.4 H492z M499 163.5 L502 160.4 H500.3 V156.5 H497.7 V160.4 H496z M502 172.5 L505 169.4 H503.3 V165.5 H500.7 V169.4 H499z M508 167.5 L511 164.4 H509.3 V160.5 H506.7 V164.4 H505z M505 196.5 L508 193.4 H506.3 V189.5 H503.7 V193.4 H502z M511 191.5 L514 188.4 H512.3 V184.5 H509.7 V188.4 H508z M514 202.5 L517 199.4 H515.3 V195.5 H512.7 V199.4 H511z M516 213.5 L519 210.4 H517.3 V206.5 H514.7 V210.4 H513z M519 215.5 L522 212.4 H520.3 V208.5 H517.7 V212.4 H516z M522 229.5 L525 226.4 H523.3 V222.5 H520.7 V226.4 H519z M526 236.5 L529 233.4 H527.3 V229.5 H524.7 V233.4 H523z M530 219.5 L533 216.4 H531.3 V212.5 H528.7 V216.4 H527z M533 235.5 L536 232.4 H534.3 V228.5 H531.7 V232.4 H530z M536 241.5 L539 238.4 H537.3 V234.5 H534.7 V238.4 H533z M539 224.5 L542 221.4 H540.3 V217.5 H537.7 V221.4 H536z M542 225.5 L545 222.4 H543.3 V218.5 H540.7 V222.4 H539z M545.6 207.5 L548.6 204.4 H546.9 V200.5 H544.3000000000001 V204.4 H542.6z M549 221.5 L552 218.4 H550.3 V214.5 H547.7 V218.4 H546z M552 216.5 L555 213.4 H553.3 V209.5 H550.7 V213.4 H549z M555 221.5 L558 218.4 H556.3 V214.5 H553.7 V218.4 H552z M558 227.5 L561 224.4 H559.3 V220.5 H556.7 V224.4 H555z M561 217.5 L564 214.4 H562.3 V210.5 H559.7 V214.4 H558z M564 225.5 L567 222.4 H565.3 V218.5 H562.7 V222.4 H561z M567 232.5 L570 229.4 H568.3 V225.5 H565.7 V229.4 H564z M570 225.5 L573 222.4 H571.3 V218.5 H568.7 V222.4 H567z M573 227.5 L576 224.4 H574.3 V220.5 H571.7 V224.4 H570z M577 231.5 L580 228.4 H578.3 V224.5 H575.7 V228.4 H574z M580 235.5 L583 232.4 H581.3 V228.5 H578.7 V232.4 H577z M583 234.5 L586 231.4 H584.3 V227.5 H581.7 V231.4 H580z M586 220.5 L589 217.4 H587.3 V213.5 H584.7 V217.4 H583z M589 227.5 L592 224.4 H590.3 V220.5 H587.7 V224.4 H586z M592 225.5 L595 222.4 H593.3 V218.5 H590.7 V222.4 H589z M595 219.5 L598 216.4 H596.3 V212.5 H593.7 V216.4 H592z M598 216.5 L601 213.4 H599.3 V209.5 H596.7 V213.4 H595z M601 218.5 L604 215.4 H602.3 V211.5 H599.7 V215.4 H598z M604 227.5 L607 224.4 H605.3 V220.5 H602.7 V224.4 H601z M607 231.5 L610 228.4 H608.3 V224.5 H605.7 V228.4 H604z M610 235.5 L613 232.4 H611.3 V228.5 H608.7 V232.4 H607z M614 261.5 L617 258.4 H615.3 V254.5 H612.7 V258.4 H611z M617 273.1 L620 270.0 H618.3 V266.1 H615.7 V270.0 H614z M620.6 310.5 L623.6 307.4 H621.9 V303.5 H619.3000000000001 V307.4 H617.6z M626.2 327.5 L629.2 324.4 H627.5 V320.5 H624.9000000000001 V324.4 H623.2z M629.4 338.5 L632.4 335.4 H630.6999999999999 V331.5 H628.1 V335.4 H626.4z M633 282.5 L636 279.4 H634.3 V275.5 H631.7 V279.4 H630z M636 267.5 L639 264.4 H637.3 V260.5 H634.7 V264.4 H633z M640 267.5 L643 264.4 H641.3 V260.5 H638.7 V264.4 H637z M645 267.5 L648 264.4 H646.3 V260.5 H643.7 V264.4 H642z M638.6 248.5 L641.6 245.4 H639.9 V241.5 H637.3000000000001 V245.4 H635.6z M649 249.5 L652 246.4 H650.3 V242.5 H647.7 V246.4 H646z M652 249.5 L655 246.4 H653.3 V242.5 H650.7 V246.4 H649z M655 241.5 L658 238.4 H656.3 V234.5 H653.7 V238.4 H652z M658 227.5 L661 224.4 H659.3 V220.5 H656.7 V224.4 H655z M661 235.5 L664 232.4 H662.3 V228.5 H659.7 V232.4 H658z M664 229.5 L667 226.4 H665.3 V222.5 H662.7 V226.4 H661z M667 221.5 L670 218.4 H668.3 V214.5 H665.7 V218.4 H664z M670 215.5 L673 212.4 H671.3 V208.5 H668.7 V212.4 H667z M673 225.5 L676 222.4 H674.3 V218.5 H671.7 V222.4 H670z M676 235.5 L679 232.4 H677.3 V228.5 H674.7 V232.4 H673z M679 237.5 L682 234.4 H680.3 V230.5 H677.7 V234.4 H676z M682 223.5 L685 220.4 H683.3 V216.5 H680.7 V220.4 H679z M685 211.5 L688 208.4 H686.3 V204.5 H683.7 V208.4 H682z M688 220.5 L691 217.4 H689.3 V213.5 H686.7 V217.4 H685z M692 210.5 L695 207.4 H693.3 V203.5 H690.7 V207.4 H689z M695 219.5 L698 216.4 H696.3 V212.5 H693.7 V216.4 H692z M698 232.5 L701 229.4 H699.3 V225.5 H696.7 V229.4 H695z M701 236.5 L704 233.4 H702.3 V229.5 H699.7 V233.4 H698z M704 238.5 L707 235.4 H705.3 V231.5 H702.7 V235.4 H701z M707 231.5 L710 228.4 H708.3 V224.5 H705.7 V228.4 H704z M710 225.5 L713 222.4 H711.3 V218.5 H708.7 V222.4 H707z M713 231.5 L716 228.4 H714.3 V224.5 H711.7 V228.4 H710z M716 241.5 L719 238.4 H717.3 V234.5 H714.7 V238.4 H713z M719 246.5 L722 243.4 H720.3 V239.5 H717.7 V243.4 H716z M722 248.5 L725 245.4 H723.3 V241.5 H720.7 V245.4 H719z M726 235.5 L729 232.4 H727.3 V228.5 H724.7 V232.4 H723z M729 237.5 L732 234.4 H730.3 V230.5 H727.7 V234.4 H726z M733 221.5 L736 218.4 H734.3 V214.5 H731.7 V218.4 H730z M736 225.5 L739 222.4 H737.3 V218.5 H734.7 V222.4 H733z M739 223.5 L742 220.4 H740.3 V216.5 H737.7 V220.4 H736z M742 224.5 L745 221.4 H743.3 V217.5 H740.7 V221.4 H739z M745.4 206.5 L748.4 203.4 H746.6999999999999 V199.5 H744.1 V203.4 H742.4z M748.6 199.5 L751.6 196.4 H749.9 V192.5 H747.3000000000001 V196.4 H745.6z " fill="#3a3338" fill-opacity="0.6" stroke="#ee8cc6" stroke-width="0.85"/></g></svg>
<svg style="left:483.00px;top:139.00px;" width="20" height="30" viewBox="0 0 20 30"><g fill="none" stroke="#f1f1f1" stroke-width="0.9"><path d="M1.8 4.4 L3.2 5.8 L5.6 2.8"/><path d="M1.8 15.4 L3.2 16.8 L5.6 13.8"/><path d="M1.8 26 L3.2 27.4 L5.6 24.4"/></g><g fill="none" stroke="#d8d8d8" stroke-width="1"><circle cx="12.4" cy="4.4" r="2.3"/><circle cx="12.4" cy="15.4" r="2.3"/><circle cx="12.4" cy="26" r="2.3"/></g></svg>
<span style="left:514px;top:140px;line-height:7px;font-size:6.6px;color:#f1f1f1;transform:translate(0.40px,0.41px) rotate(0.01deg);letter-spacing:-0.464px;font-weight:bold;">O:</span>
<span style="left:521px;top:140px;line-height:7px;font-size:6.6px;color:#ff1c24;transform:translate(0.00px,0.41px) rotate(0.01deg);letter-spacing:-0.429px;font-weight:bold;">189.61</span>
<span style="left:542px;top:140px;line-height:7px;font-size:6.6px;color:#f1f1f1;transform:translate(0.60px,0.41px) rotate(0.01deg);letter-spacing:-0.384px;font-weight:bold;">H:</span>
<span style="left:549px;top:140px;line-height:7px;font-size:6.6px;color:#ff1c24;transform:translate(0.00px,0.41px) rotate(0.01deg);letter-spacing:-0.429px;font-weight:bold;">189.66</span>
<span style="left:570px;top:140px;line-height:7px;font-size:6.6px;color:#f1f1f1;transform:translate(0.20px,0.41px) rotate(0.01deg);letter-spacing:-0.517px;font-weight:bold;">L:</span>
<span style="left:575px;top:140px;line-height:7px;font-size:6.6px;color:#ff1c24;transform:translate(0.80px,0.41px) rotate(0.01deg);letter-spacing:-0.429px;font-weight:bold;">189.53</span>
<span style="left:598px;top:140px;line-height:7px;font-size:6.6px;color:#f1f1f1;transform:translate(0.00px,0.41px) rotate(0.01deg);letter-spacing:-0.584px;font-weight:bold;">C:</span>
<span style="left:604px;top:140px;line-height:7px;font-size:6.6px;color:#ff1c24;transform:translate(0.20px,0.41px) rotate(0.01deg);letter-spacing:-0.429px;font-weight:bold;">189.56</span>
</div></body></html>
